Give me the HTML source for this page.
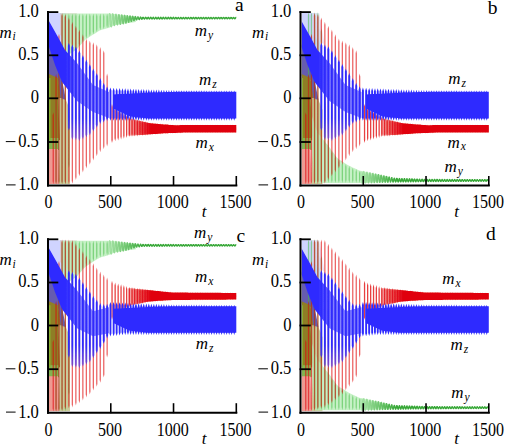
<!DOCTYPE html>
<html><head><meta charset="utf-8"><style>
html,body{margin:0;padding:0;background:#fff;width:507px;height:445px;overflow:hidden}
svg{display:block}
text{font-family:"Liberation Serif",serif}
</style></head><body>
<svg width="507" height="445" viewBox="0 0 507 445"><defs><filter id="bl" x="-2%" y="-2%" width="104%" height="104%"><feGaussianBlur stdDeviation="0.45"/></filter><clipPath id="cp"><rect x="49" y="5" width="188" height="179.6"/></clipPath><linearGradient id="rg" gradientUnits="userSpaceOnUse" x1="118.3" y1="0" x2="150.9" y2="0"><stop offset="0" stop-color="#e00008" stop-opacity="0"/><stop offset="1" stop-color="#e00008" stop-opacity="1"/></linearGradient><linearGradient id="gg" gradientUnits="userSpaceOnUse" x1="108.3" y1="0" x2="143.4" y2="0"><stop offset="0" stop-color="#a8e4a8"/><stop offset="1" stop-color="#38a838"/></linearGradient><linearGradient id="bandg" gradientUnits="userSpaceOnUse" x1="66" y1="0" x2="80" y2="0"><stop offset="0" stop-color="#2f2cff" stop-opacity="1"/><stop offset="1" stop-color="#2f2cff" stop-opacity="0.6"/></linearGradient><linearGradient id="bga" gradientUnits="userSpaceOnUse" x1="0" y1="118" x2="0" y2="152"><stop offset="0" stop-color="#2f2cff" stop-opacity="1"/><stop offset="1" stop-color="#2f2cff" stop-opacity="0.25"/></linearGradient><linearGradient id="bgb" gradientUnits="userSpaceOnUse" x1="0" y1="118" x2="0" y2="152"><stop offset="0" stop-color="#2f2cff" stop-opacity="1"/><stop offset="1" stop-color="#2f2cff" stop-opacity="0.25"/></linearGradient><linearGradient id="bgc" gradientUnits="userSpaceOnUse" x1="0" y1="118" x2="0" y2="152"><stop offset="0" stop-color="#2f2cff" stop-opacity="1"/><stop offset="1" stop-color="#2f2cff" stop-opacity="0.25"/></linearGradient><linearGradient id="bgd" gradientUnits="userSpaceOnUse" x1="0" y1="118" x2="0" y2="152"><stop offset="0" stop-color="#2f2cff" stop-opacity="1"/><stop offset="1" stop-color="#2f2cff" stop-opacity="0.25"/></linearGradient></defs><g transform="translate(0,0)">
<g clip-path="url(#cp)"><g filter="url(#bl)"><polygon points="49.0,13.0 61.0,13.0 67.0,30.0 68.0,56.0 65.0,50.0 58.0,37.0 49.0,21.0" fill="#c8ccff" fill-opacity="0.85"/>
<polygon points="60.0,13.0 66.0,13.0 68.0,56.0 65.0,50.0 62.0,44.0" fill="#c0e0ee" fill-opacity="0.6"/>
<polygon points="49.0,44.0 55.0,62.0 62.0,80.0 66.0,100.0 60.0,100.0 58.0,80.0 49.0,76.0" fill="#665cb0" fill-opacity="1.0"/>
<polygon points="49.0,74.0 58.0,78.0 61.0,100.0 60.0,140.0 49.0,140.0" fill="#8e7e26" fill-opacity="1.0"/>
<polygon points="49.0,138.0 59.0,138.0 59.0,150.0 49.0,150.0" fill="#82b450" fill-opacity="1.0"/>
<polygon points="49.0,78.0 50.5,78.0 50.5,140.0 49.0,140.0" fill="#88b030" fill-opacity="1.0"/>
<polygon points="49.0,149.0 58.0,149.0 59.0,184.0 49.0,184.0" fill="#ee9a92" fill-opacity="1.0"/>
<polygon points="58.0,98.0 61.0,98.0 66.0,100.0 70.0,110.0 70.0,184.0 59.0,184.0 60.0,140.0" fill="#c4c690" fill-opacity="0.9"/>
<polygon points="60.1,13.2 76.9,13.2 76.9,46.7 68.1,42.4 60.1,34.7" fill="#d8c8c0" fill-opacity="0.7"/>
<polygon points="61.8,13.6 63.3,13.6 64.8,13.6 66.3,13.6 67.9,13.6 69.4,13.6 70.9,13.6 72.4,13.6 73.9,13.6 75.4,13.6 76.9,13.6 78.4,13.6 79.9,13.6 81.5,13.6 83.0,13.6 84.5,13.6 86.0,13.6 87.5,13.6 89.0,13.6 90.5,13.6 92.0,13.6 93.5,13.6 95.1,13.6 96.6,13.6 98.1,13.6 99.6,13.6 101.1,13.6 102.6,13.6 104.1,13.6 105.6,13.6 107.2,13.6 108.7,13.6 110.2,13.6 111.7,13.7 113.2,13.9 114.7,14.1 116.2,14.2 117.7,14.4 119.2,14.6 120.8,14.8 122.3,15.0 123.8,15.2 125.3,15.3 126.8,15.5 128.3,15.7 129.8,15.9 131.3,16.1 132.8,16.2 134.4,16.4 135.9,16.6 135.9,22.1 134.4,22.3 132.8,22.5 131.3,22.7 129.8,22.9 128.3,23.1 126.8,23.3 125.3,23.4 123.8,23.7 122.3,23.9 120.8,24.2 119.2,24.5 117.7,24.7 116.2,25.0 114.7,25.3 113.2,26.0 111.7,26.6 110.2,27.3 108.7,27.9 107.2,28.3 105.6,28.7 104.1,29.2 102.6,29.6 101.1,30.0 99.6,30.6 98.1,31.5 96.6,32.4 95.1,33.4 93.5,34.3 92.0,35.2 90.5,36.2 89.0,37.2 87.5,38.2 86.0,39.2 84.5,40.5 83.0,42.2 81.5,44.0 79.9,45.8 78.4,47.6 76.9,49.3 75.4,50.3 73.9,51.3 72.4,52.2 70.9,53.2 69.4,54.2 67.9,55.2 66.3,56.1 64.8,57.1 63.3,58.4 61.8,59.6" fill="#b8eeb8" fill-opacity="0.8"/>
<path fill="#44bb44" fill-opacity="0.55" d="M56.1 95.2L56.7 98.2L56.7 181.3L56.1 184.3L55.4 181.3L55.4 98.2ZM59.0 57.7L59.6 60.7L59.6 181.3L59.0 184.3L58.3 181.3L58.3 60.7ZM62.1 13.6L62.7 16.6L62.7 181.3L62.1 184.3L61.4 181.3L61.4 16.6ZM65.4 13.6L66.0 16.6L66.0 181.3L65.4 184.3L64.7 181.3L64.7 16.6ZM68.9 13.6L69.5 16.6L69.5 164.8L68.9 167.8L68.2 164.8L68.2 16.6ZM72.4 13.6L73.0 16.6L73.0 92.7L72.4 95.7L71.7 92.7L71.7 16.6ZM75.9 13.6L76.5 16.6L76.5 55.3L75.9 58.3L75.2 55.3L75.2 16.6ZM79.4 13.6L80.0 16.6L80.0 43.5L79.4 46.5L78.7 43.5L78.7 16.6ZM82.9 13.6L83.5 16.6L83.5 39.3L82.9 42.3L82.2 39.3L82.2 16.6ZM86.4 13.6L87.0 16.6L87.0 35.9L86.4 38.9L85.7 35.9L85.7 16.6ZM89.8 13.6L90.5 16.6L90.5 33.7L89.8 36.7L89.2 33.7L89.2 16.6ZM93.3 13.6L94.0 16.6L94.0 31.4L93.3 34.4L92.7 31.4L92.7 16.6ZM96.8 13.6L97.4 16.6L97.4 29.3L96.8 32.3L96.1 29.3L96.1 16.6ZM100.3 13.6L100.9 16.6L100.9 27.3L100.3 30.3L99.6 27.3L99.6 16.6ZM103.7 13.6L104.4 16.6L104.4 26.3L103.7 29.3L103.1 26.3L103.1 16.6ZM107.1 13.6L107.8 16.6L107.8 25.3L107.1 28.3L106.5 25.3L106.5 16.6ZM110.4 13.6L111.1 16.6L111.1 24.2L110.4 27.2L109.8 24.2L109.8 16.6ZM113.6 13.9L114.3 16.9L114.3 22.8L113.6 25.8L113.0 22.8L113.0 16.9ZM116.7 14.3L117.3 17.3L117.3 21.9L116.7 24.9L116.0 21.9L116.0 17.3ZM119.6 14.7L120.3 17.7L120.3 21.4L119.6 24.4L119.0 21.4L119.0 17.7ZM122.5 15.0L123.1 18.0L123.1 20.9L122.5 23.9L121.8 20.9L121.8 18.0ZM125.2 15.3L125.9 18.3L125.9 20.4L125.2 23.4L124.6 20.4L124.6 18.3ZM128.0 15.7L128.6 18.7L128.6 19.5L128.0 22.5L127.3 19.5L127.3 18.7ZM130.7 16.0L131.3 18.8L131.3 18.8L130.7 21.7L130.0 18.8L130.0 18.8ZM133.3 16.3L134.0 18.6L134.0 18.6L133.3 20.8L132.7 18.6L132.7 18.6ZM136.0 16.6L136.6 18.3L136.6 18.3L136.0 20.0L135.3 18.3L135.3 18.3ZM138.6 16.9L139.3 18.3L139.3 18.3L138.6 19.7L138.0 18.3L138.0 18.3ZM141.2 17.1L141.9 18.2L141.9 18.2L141.2 19.3L140.6 18.2L140.6 18.2ZM143.8 17.3L144.4 18.1L144.4 18.1L143.8 19.0L143.1 18.1L143.1 18.1ZM146.3 17.3L147.0 18.1L147.0 18.1L146.3 19.0L145.7 18.1L145.7 18.1ZM148.8 17.3L149.5 18.1L149.5 18.1L148.8 19.0L148.2 18.1L148.2 18.1ZM151.4 17.3L152.0 18.1L152.0 18.1L151.4 19.0L150.7 18.1L150.7 18.1ZM153.9 17.3L154.5 18.1L154.5 18.1L153.9 19.0L153.2 18.1L153.2 18.1ZM156.4 17.3L157.0 18.1L157.0 18.1L156.4 19.0L155.7 18.1L155.7 18.1ZM158.9 17.3L159.5 18.1L159.5 18.1L158.9 19.0L158.2 18.1L158.2 18.1ZM161.4 17.3L162.0 18.1L162.0 18.1L161.4 19.0L160.7 18.1L160.7 18.1ZM163.9 17.3L164.6 18.1L164.6 18.1L163.9 19.0L163.3 18.1L163.3 18.1ZM166.4 17.3L167.1 18.1L167.1 18.1L166.4 18.9L165.8 18.1L165.8 18.1ZM168.9 17.3L169.6 18.1L169.6 18.1L168.9 18.9L168.3 18.1L168.3 18.1ZM171.4 17.3L172.1 18.1L172.1 18.1L171.4 18.9L170.8 18.1L170.8 18.1ZM173.9 17.3L174.6 18.1L174.6 18.1L173.9 18.9L173.3 18.1L173.3 18.1ZM176.5 17.3L177.1 18.1L177.1 18.1L176.5 18.9L175.8 18.1L175.8 18.1ZM179.0 17.4L179.6 18.1L179.6 18.1L179.0 18.9L178.3 18.1L178.3 18.1ZM181.5 17.4L182.1 18.1L182.1 18.1L181.5 18.9L180.8 18.1L180.8 18.1ZM184.0 17.4L184.6 18.1L184.6 18.1L184.0 18.9L183.3 18.1L183.3 18.1ZM186.5 17.4L187.1 18.1L187.1 18.1L186.5 18.9L185.8 18.1L185.8 18.1ZM189.0 17.4L189.7 18.1L189.7 18.1L189.0 18.9L188.4 18.1L188.4 18.1ZM191.5 17.4L192.2 18.1L192.2 18.1L191.5 18.9L190.9 18.1L190.9 18.1ZM194.0 17.4L194.7 18.1L194.7 18.1L194.0 18.9L193.4 18.1L193.4 18.1ZM196.5 17.4L197.2 18.1L197.2 18.1L196.5 18.9L195.9 18.1L195.9 18.1ZM199.1 17.4L199.7 18.1L199.7 18.1L199.1 18.9L198.4 18.1L198.4 18.1ZM201.6 17.4L202.2 18.1L202.2 18.1L201.6 18.8L200.9 18.1L200.9 18.1ZM204.1 17.4L204.7 18.1L204.7 18.1L204.1 18.8L203.4 18.1L203.4 18.1ZM206.6 17.4L207.2 18.1L207.2 18.1L206.6 18.8L205.9 18.1L205.9 18.1ZM209.1 17.4L209.7 18.1L209.7 18.1L209.1 18.8L208.4 18.1L208.4 18.1ZM211.6 17.4L212.3 18.1L212.3 18.1L211.6 18.8L211.0 18.1L211.0 18.1ZM214.1 17.4L214.8 18.1L214.8 18.1L214.1 18.8L213.5 18.1L213.5 18.1ZM216.6 17.4L217.3 18.1L217.3 18.1L216.6 18.8L216.0 18.1L216.0 18.1ZM219.1 17.4L219.8 18.1L219.8 18.1L219.1 18.8L218.5 18.1L218.5 18.1ZM221.6 17.4L222.3 18.1L222.3 18.1L221.6 18.8L221.0 18.1L221.0 18.1ZM224.2 17.4L224.8 18.1L224.8 18.1L224.2 18.8L223.5 18.1L223.5 18.1ZM226.7 17.4L227.3 18.1L227.3 18.1L226.7 18.8L226.0 18.1L226.0 18.1ZM229.2 17.4L229.8 18.1L229.8 18.1L229.2 18.8L228.5 18.1L228.5 18.1ZM231.7 17.5L232.3 18.1L232.3 18.1L231.7 18.8L231.0 18.1L231.0 18.1ZM234.2 17.5L234.9 18.1L234.9 18.1L234.2 18.8L233.6 18.1L233.6 18.1Z"/>
<path fill="#e00008" fill-opacity="0.6" d="M53.3 112.3L53.9 115.3L53.9 181.3L53.3 184.3L52.6 181.3L52.6 115.3ZM56.1 73.9L56.7 76.9L56.7 181.3L56.1 184.3L55.4 181.3L55.4 76.9ZM59.0 33.7L59.6 36.7L59.6 181.3L59.0 184.3L58.3 181.3L58.3 36.7ZM62.1 12.9L62.7 15.9L62.7 181.3L62.1 184.3L61.4 181.3L61.4 15.9ZM65.4 14.3L66.0 17.3L66.0 181.3L65.4 184.3L64.7 181.3L64.7 17.3ZM68.9 17.4L69.5 20.4L69.5 181.3L68.9 184.3L68.2 181.3L68.2 20.4ZM72.4 21.7L73.0 24.7L73.0 180.7L72.4 183.7L71.7 180.7L71.7 24.7ZM75.9 25.7L76.5 28.7L76.5 177.0L75.9 180.0L75.2 177.0L75.2 28.7ZM79.4 29.5L80.0 32.5L80.0 173.3L79.4 176.3L78.7 173.3L78.7 32.5ZM82.9 34.3L83.5 37.3L83.5 169.5L82.9 172.5L82.2 169.5L82.2 37.3ZM86.4 38.5L87.0 41.5L87.0 165.6L86.4 168.6L85.7 165.6L85.7 41.5ZM89.8 40.4L90.5 43.4L90.5 161.7L89.8 164.7L89.2 161.7L89.2 43.4ZM93.3 42.3L94.0 45.3L94.0 157.5L93.3 160.5L92.7 157.5L92.7 45.3ZM96.8 44.2L97.4 47.2L97.4 153.3L96.8 156.3L96.1 153.3L96.1 47.2ZM100.3 46.9L100.9 49.9L100.9 149.2L100.3 152.2L99.6 149.2L99.6 49.9ZM103.7 50.3L104.4 53.3L104.4 146.3L103.7 149.3L103.1 146.3L103.1 53.3ZM107.1 73.5L107.8 76.5L107.8 143.4L107.1 146.4L106.5 143.4L106.5 76.5Z"/>
<path fill="#e00008" fill-opacity="0.75" d="M112.0 104.1L112.7 107.1L112.7 140.1L112.0 143.1L111.4 140.1L111.4 107.1ZM115.2 107.8L115.8 110.8L115.8 138.3L115.2 141.3L114.5 138.3L114.5 110.8ZM118.2 109.7L118.8 112.7L118.8 137.4L118.2 140.4L117.5 137.4L117.5 112.7ZM121.1 111.6L121.7 114.6L121.7 136.5L121.1 139.5L120.4 136.5L120.4 114.6ZM123.9 113.4L124.5 116.4L124.5 135.7L123.9 138.7L123.2 135.7L123.2 116.4ZM126.6 115.1L127.3 118.1L127.3 134.9L126.6 137.9L126.0 134.9L126.0 118.1ZM129.3 116.8L130.0 119.8L130.0 134.1L129.3 137.1L128.7 134.1L128.7 119.8ZM132.0 117.7L132.7 120.7L132.7 133.8L132.0 136.8L131.4 133.8L131.4 120.7ZM134.7 118.4L135.3 121.4L135.3 133.6L134.7 136.6L134.0 133.6L134.0 121.4ZM137.3 119.1L138.0 122.1L138.0 133.4L137.3 136.4L136.7 133.4L136.7 122.1ZM139.9 119.8L140.6 122.8L140.6 133.1L139.9 136.1L139.3 133.1L139.3 122.8ZM142.5 120.4L143.1 123.4L143.1 132.9L142.5 135.9L141.8 132.9L141.8 123.4ZM145.1 121.1L145.7 124.1L145.7 132.7L145.1 135.7L144.4 132.7L144.4 124.1ZM147.6 121.7L148.2 124.7L148.2 132.5L147.6 135.5L146.9 132.5L146.9 124.7ZM150.1 122.4L150.7 125.4L150.7 132.3L150.1 135.3L149.4 132.3L149.4 125.4ZM152.6 122.6L153.3 125.6L153.3 132.1L152.6 135.1L152.0 132.1L152.0 125.6ZM155.1 122.8L155.8 125.8L155.8 131.8L155.1 134.8L154.5 131.8L154.5 125.8ZM157.6 123.1L158.3 126.1L158.3 131.6L157.6 134.6L157.0 131.6L157.0 126.1ZM160.1 123.3L160.8 126.3L160.8 131.4L160.1 134.4L159.5 131.4L159.5 126.3ZM162.6 123.5L163.3 126.5L163.3 131.2L162.6 134.2L162.0 131.2L162.0 126.5ZM165.2 123.8L165.8 126.8L165.8 131.0L165.2 134.0L164.5 131.0L164.5 126.8ZM167.7 124.0L168.3 127.0L168.3 130.9L167.7 133.9L167.0 130.9L167.0 127.0ZM170.2 124.2L170.8 127.2L170.8 130.8L170.2 133.8L169.5 130.8L169.5 127.2ZM172.7 124.5L173.3 127.5L173.3 130.7L172.7 133.7L172.0 130.7L172.0 127.5ZM175.2 124.5L175.9 127.5L175.9 130.6L175.2 133.6L174.6 130.6L174.6 127.5ZM177.7 124.5L178.4 127.5L178.4 130.5L177.7 133.5L177.1 130.5L177.1 127.5ZM180.2 124.5L180.9 127.5L180.9 130.4L180.2 133.4L179.6 130.4L179.6 127.5ZM182.7 124.5L183.4 127.5L183.4 130.3L182.7 133.3L182.1 130.3L182.1 127.5ZM185.2 124.5L185.9 127.5L185.9 130.2L185.2 133.2L184.6 130.2L184.6 127.5ZM187.8 124.5L188.4 127.5L188.4 130.1L187.8 133.1L187.1 130.1L187.1 127.5ZM190.3 124.5L190.9 127.5L190.9 130.1L190.3 133.1L189.6 130.1L189.6 127.5ZM192.8 124.5L193.4 127.5L193.4 130.1L192.8 133.1L192.1 130.1L192.1 127.5ZM195.3 124.5L195.9 127.5L195.9 130.1L195.3 133.1L194.6 130.1L194.6 127.5ZM197.8 124.5L198.4 127.5L198.4 130.1L197.8 133.1L197.1 130.1L197.1 127.5ZM200.3 124.5L201.0 127.5L201.0 130.1L200.3 133.1L199.7 130.1L199.7 127.5ZM202.8 124.5L203.5 127.5L203.5 130.1L202.8 133.1L202.2 130.1L202.2 127.5ZM205.3 124.5L206.0 127.5L206.0 130.1L205.3 133.1L204.7 130.1L204.7 127.5ZM207.8 124.5L208.5 127.5L208.5 130.1L207.8 133.1L207.2 130.1L207.2 127.5ZM210.3 124.5L211.0 127.5L211.0 130.1L210.3 133.1L209.7 130.1L209.7 127.5ZM212.9 124.5L213.5 127.5L213.5 130.1L212.9 133.1L212.2 130.1L212.2 127.5ZM215.4 124.5L216.0 127.5L216.0 130.1L215.4 133.1L214.7 130.1L214.7 127.5ZM217.9 124.5L218.5 127.5L218.5 130.1L217.9 133.1L217.2 130.1L217.2 127.5ZM220.4 124.5L221.0 127.5L221.0 130.1L220.4 133.1L219.7 130.1L219.7 127.5ZM222.9 124.5L223.6 127.5L223.6 130.1L222.9 133.1L222.3 130.1L222.3 127.5ZM225.4 124.5L226.1 127.5L226.1 130.1L225.4 133.1L224.8 130.1L224.8 127.5ZM227.9 124.5L228.6 127.5L228.6 130.1L227.9 133.1L227.3 130.1L227.3 127.5ZM230.4 124.5L231.1 127.5L231.1 130.1L230.4 133.1L229.8 130.1L229.8 127.5ZM232.9 124.5L233.6 127.5L233.6 130.1L232.9 133.1L232.3 130.1L232.3 127.5ZM235.5 124.5L236.1 127.5L236.1 130.1L235.5 133.1L234.8 130.1L234.8 127.5Z"/>
<path fill="none" stroke="url(#gg)" stroke-width="1.35" stroke-linejoin="round" d="M108.3 26.9 108.5 24.1 108.8 20.5 109.1 16.9 109.4 14.4 109.6 13.6 109.9 14.6 110.2 17.2 110.4 20.6 110.7 23.9 111.0 26.2 111.3 26.8 111.5 25.7 111.8 23.1 112.1 19.8 112.3 16.7 112.6 14.5 112.8 13.8 113.1 14.8 113.4 17.1 113.6 20.1 113.9 23.0 114.2 24.9 114.4 25.5 114.7 24.5 114.9 22.2 115.2 19.4 115.4 16.6 115.7 14.8 115.9 14.2 116.2 15.1 116.5 17.2 116.7 19.9 117.0 22.5 117.2 24.3 117.5 24.8 117.7 23.9 117.9 21.9 118.2 19.3 118.4 16.8 118.7 15.1 118.9 14.6 119.2 15.4 119.4 17.4 119.7 19.9 119.9 22.2 120.1 23.8 120.4 24.3 120.6 23.4 120.9 21.5 121.1 19.2 121.3 16.9 121.6 15.3 121.8 14.9 122.0 15.7 122.3 17.5 122.5 19.8 122.7 21.9 123.0 23.4 123.2 23.8 123.4 23.0 123.7 21.3 123.9 19.1 124.1 17.0 124.4 15.6 124.6 15.3 124.8 16.0 125.0 17.6 125.3 19.7 125.5 21.6 125.7 22.9 126.0 23.1 126.2 22.4 126.4 20.9 126.6 18.9 126.9 17.1 127.1 15.9 127.3 15.6 127.5 16.2 127.8 17.6 128.0 19.4 128.2 21.0 128.5 22.1 128.7 22.3 128.9 21.7 129.1 20.3 129.4 18.7 129.6 17.2 129.8 16.2 130.0 15.9 130.3 16.5 130.5 17.6 130.7 19.1 130.9 20.4 131.2 21.3 131.4 21.4 131.6 20.9 131.8 19.8 132.0 18.5 132.3 17.2 132.5 16.4 132.7 16.2 132.9 16.7 133.2 17.6 133.4 18.8 133.6 19.8 133.8 20.5 134.0 20.6 134.3 20.2 134.5 19.3 134.7 18.3 134.9 17.3 135.1 16.7 135.4 16.5 135.6 16.9 135.8 17.6 136.0 18.5 136.2 19.3 136.5 19.8 136.7 19.9 136.9 19.6 137.1 18.9 137.3 18.1 137.6 17.4 137.8 16.9 138.0 16.8 138.2 17.1 138.4 17.7 138.7 18.4 138.9 19.1 139.1 19.5 139.3 19.6 139.5 19.3 139.7 18.8 140.0 18.1 140.2 17.5 140.4 17.1 140.6 17.0 140.8 17.3 141.0 17.7 141.2 18.3 141.5 18.8 141.7 19.2 141.9 19.2 142.1 19.0 142.3 18.6 142.5 18.1 142.7 17.6 143.0 17.3 143.2 17.3 143.4 17.4 143.6 17.8 143.8 18.2 144.0 18.6 144.2 18.9 144.5 19.0 144.7 18.8 144.9 18.5 145.1 18.1 145.3 17.6 145.5 17.4 145.7 17.3 145.9 17.5 146.2 17.8 146.4 18.2 146.6 18.6 146.8 18.9 147.0 19.0 147.2 18.8 147.4 18.5 147.6 18.1 147.8 17.6 148.0 17.4 148.3 17.3 148.5 17.5 148.7 17.8 148.9 18.2 149.1 18.6 149.3 18.9 149.5 19.0 149.7 18.8 149.9 18.5 150.1 18.1 150.3 17.6 150.6 17.4 150.8 17.3 151.0 17.5 151.2 17.8 151.4 18.2 151.6 18.6 151.8 18.9 152.0 19.0 152.2 18.8 152.4 18.5 152.6 18.1 152.9 17.7 153.1 17.4 153.3 17.3 153.5 17.5 153.7 17.8 153.9 18.2 154.1 18.6 154.3 18.9 154.5 19.0 154.7 18.8 154.9 18.5 155.2 18.1 155.4 17.7 155.6 17.4 155.8 17.3 156.0 17.5 156.2 17.8 156.4 18.2 156.6 18.6 156.8 18.9 157.0 19.0 157.3 18.8 157.5 18.5 157.7 18.1 157.9 17.7 158.1 17.4 158.3 17.3 158.5 17.5 158.7 17.8 158.9 18.2 159.1 18.6 159.3 18.9 159.6 19.0 159.8 18.8 160.0 18.5 160.2 18.1 160.4 17.7 160.6 17.4 160.8 17.3 161.0 17.5 161.2 17.8 161.4 18.2 161.6 18.6 161.9 18.9 162.1 19.0 162.3 18.8 162.5 18.5 162.7 18.1 162.9 17.7 163.1 17.4 163.3 17.3 163.5 17.5 163.7 17.8 163.9 18.2 164.2 18.6 164.4 18.9 164.6 18.9 164.8 18.8 165.0 18.5 165.2 18.1 165.4 17.7 165.6 17.4 165.8 17.3 166.0 17.5 166.2 17.8 166.5 18.2 166.7 18.6 166.9 18.9 167.1 18.9 167.3 18.8 167.5 18.5 167.7 18.1 167.9 17.7 168.1 17.4 168.3 17.3 168.5 17.5 168.8 17.8 169.0 18.2 169.2 18.6 169.4 18.9 169.6 18.9 169.8 18.8 170.0 18.5 170.2 18.1 170.4 17.7 170.6 17.4 170.8 17.3 171.1 17.5 171.3 17.8 171.5 18.2 171.7 18.6 171.9 18.9 172.1 18.9 172.3 18.8 172.5 18.5 172.7 18.1 172.9 17.7 173.2 17.4 173.4 17.3 173.6 17.5 173.8 17.8 174.0 18.2 174.2 18.6 174.4 18.9 174.6 18.9 174.8 18.8 175.0 18.5 175.2 18.1 175.5 17.7 175.7 17.4 175.9 17.4 176.1 17.5 176.3 17.8 176.5 18.2 176.7 18.6 176.9 18.8 177.1 18.9 177.3 18.8 177.5 18.4 177.8 18.1 178.0 17.7 178.2 17.4 178.4 17.4 178.6 17.5 178.8 17.8 179.0 18.2 179.2 18.6 179.4 18.8 179.6 18.9 179.8 18.8 180.1 18.4 180.3 18.1 180.5 17.7 180.7 17.4 180.9 17.4 181.1 17.5 181.3 17.8 181.5 18.2 181.7 18.6 181.9 18.8 182.1 18.9 182.4 18.8 182.6 18.4 182.8 18.0 183.0 17.7 183.2 17.4 183.4 17.4 183.6 17.5 183.8 17.8 184.0 18.2 184.2 18.6 184.4 18.8 184.7 18.9 184.9 18.7 185.1 18.4 185.3 18.0 185.5 17.7 185.7 17.4 185.9 17.4 186.1 17.5 186.3 17.8 186.5 18.2 186.8 18.6 187.0 18.8 187.2 18.9 187.4 18.7 187.6 18.4 187.8 18.0 188.0 17.7 188.2 17.4 188.4 17.4 188.6 17.5 188.8 17.8 189.1 18.2 189.3 18.6 189.5 18.8 189.7 18.9 189.9 18.7 190.1 18.4 190.3 18.0 190.5 17.7 190.7 17.4 190.9 17.4 191.1 17.5 191.4 17.8 191.6 18.2 191.8 18.6 192.0 18.8 192.2 18.9 192.4 18.7 192.6 18.4 192.8 18.0 193.0 17.7 193.2 17.4 193.4 17.4 193.7 17.5 193.9 17.8 194.1 18.2 194.3 18.6 194.5 18.8 194.7 18.9 194.9 18.7 195.1 18.4 195.3 18.0 195.5 17.7 195.7 17.4 196.0 17.4 196.2 17.5 196.4 17.8 196.6 18.2 196.8 18.6 197.0 18.8 197.2 18.9 197.4 18.7 197.6 18.4 197.8 18.0 198.0 17.7 198.3 17.5 198.5 17.4 198.7 17.5 198.9 17.8 199.1 18.2 199.3 18.6 199.5 18.8 199.7 18.8 199.9 18.7 200.1 18.4 200.3 18.0 200.6 17.7 200.8 17.5 201.0 17.4 201.2 17.5 201.4 17.8 201.6 18.2 201.8 18.5 202.0 18.8 202.2 18.8 202.4 18.7 202.7 18.4 202.9 18.0 203.1 17.7 203.3 17.5 203.5 17.4 203.7 17.5 203.9 17.8 204.1 18.2 204.3 18.5 204.5 18.8 204.7 18.8 205.0 18.7 205.2 18.4 205.4 18.0 205.6 17.7 205.8 17.5 206.0 17.4 206.2 17.5 206.4 17.8 206.6 18.2 206.8 18.5 207.0 18.8 207.3 18.8 207.5 18.7 207.7 18.4 207.9 18.0 208.1 17.7 208.3 17.5 208.5 17.4 208.7 17.5 208.9 17.8 209.1 18.2 209.3 18.5 209.6 18.8 209.8 18.8 210.0 18.7 210.2 18.4 210.4 18.0 210.6 17.7 210.8 17.5 211.0 17.4 211.2 17.5 211.4 17.8 211.6 18.2 211.9 18.5 212.1 18.8 212.3 18.8 212.5 18.7 212.7 18.4 212.9 18.0 213.1 17.7 213.3 17.5 213.5 17.4 213.7 17.6 213.9 17.8 214.2 18.2 214.4 18.5 214.6 18.8 214.8 18.8 215.0 18.7 215.2 18.4 215.4 18.0 215.6 17.7 215.8 17.5 216.0 17.4 216.2 17.6 216.5 17.8 216.7 18.2 216.9 18.5 217.1 18.7 217.3 18.8 217.5 18.7 217.7 18.4 217.9 18.0 218.1 17.7 218.3 17.5 218.6 17.4 218.8 17.6 219.0 17.8 219.2 18.2 219.4 18.5 219.6 18.7 219.8 18.8 220.0 18.7 220.2 18.4 220.4 18.0 220.6 17.7 220.9 17.5 221.1 17.4 221.3 17.6 221.5 17.8 221.7 18.2 221.9 18.5 222.1 18.7 222.3 18.8 222.5 18.7 222.7 18.4 222.9 18.0 223.2 17.7 223.4 17.5 223.6 17.4 223.8 17.6 224.0 17.8 224.2 18.2 224.4 18.5 224.6 18.7 224.8 18.8 225.0 18.7 225.2 18.4 225.5 18.0 225.7 17.7 225.9 17.5 226.1 17.4 226.3 17.6 226.5 17.8 226.7 18.2 226.9 18.5 227.1 18.7 227.3 18.8 227.5 18.6 227.8 18.4 228.0 18.0 228.2 17.7 228.4 17.5 228.6 17.4 228.8 17.6 229.0 17.8 229.2 18.2 229.4 18.5 229.6 18.7 229.8 18.8 230.1 18.6 230.3 18.4 230.5 18.0 230.7 17.7 230.9 17.5 231.1 17.5 231.3 17.6 231.5 17.8 231.7 18.2 231.9 18.5 232.2 18.7 232.4 18.8 232.6 18.6 232.8 18.4 233.0 18.0 233.2 17.7 233.4 17.5 233.6 17.5 233.8 17.6 234.0 17.8 234.2 18.2 234.5 18.5 234.7 18.7 234.9 18.8 235.1 18.6 235.3 18.4 235.5 18.0 235.7 17.7 235.9 17.5 236.1 17.5 236.3 17.5"/>
<polygon points="49.0,21.0 58.0,37.0 65.0,50.0 77.0,63.0 93.0,85.0 109.0,92.0 109.0,118.0 93.0,112.0 77.0,101.0 62.0,82.0 55.0,65.0 49.0,47.0" fill="url(#bandg)"/>
<path fill="url(#bga)" d="M68.9 42.8L69.8 45.8L69.8 127.7L68.9 130.7L67.9 127.7L67.9 45.8ZM72.4 44.5L73.3 47.5L73.3 137.0L72.4 140.0L71.4 137.0L71.4 47.5ZM75.9 46.2L76.8 49.2L76.8 137.6L75.9 140.6L74.9 137.6L74.9 49.2ZM79.4 50.2L80.3 53.2L80.3 138.2L79.4 141.2L78.4 138.2L78.4 53.2ZM82.9 54.9L83.8 57.9L83.8 136.6L82.9 139.6L81.9 136.6L81.9 57.9ZM86.4 59.6L87.3 62.6L87.3 134.5L86.4 137.5L85.4 134.5L85.4 62.6ZM89.8 64.1L90.8 67.1L90.8 132.4L89.8 135.4L88.9 132.4L88.9 67.1ZM93.3 68.5L94.3 71.5L94.3 128.6L93.3 131.6L92.4 128.6L92.4 71.5ZM96.8 73.1L97.7 76.1L97.7 124.8L96.8 127.8L95.8 124.8L95.8 76.1ZM100.3 77.9L101.2 80.9L101.2 121.0L100.3 124.0L99.3 121.0L99.3 80.9ZM103.7 82.7L104.7 85.7L104.7 119.6L103.7 122.6L102.8 119.6L102.8 85.7ZM107.1 86.2L108.1 89.2L108.1 118.1L107.1 121.1L106.2 118.1L106.2 89.2ZM110.4 87.6L111.4 90.6L111.4 117.7L110.4 120.7L109.5 117.7L109.5 90.6ZM113.6 87.7L114.6 90.7L114.6 117.7L113.6 120.7L112.7 117.7L112.7 90.7ZM116.7 87.9L117.6 90.9L117.6 117.8L116.7 120.8L115.7 117.8L115.7 90.9ZM119.6 88.0L120.6 91.0L120.6 117.8L119.6 120.8L118.7 117.8L118.7 91.0ZM122.5 88.2L123.4 91.2L123.4 117.8L122.5 120.8L121.5 117.8L121.5 91.2ZM125.2 88.3L126.2 91.3L126.2 117.8L125.2 120.8L124.3 117.8L124.3 91.3ZM128.0 88.4L128.9 91.4L128.9 117.8L128.0 120.8L127.0 117.8L127.0 91.4ZM130.7 88.6L131.6 91.6L131.6 117.8L130.7 120.8L129.7 117.8L129.7 91.6ZM133.3 88.7L134.3 91.7L134.3 117.8L133.3 120.8L132.4 117.8L132.4 91.7ZM136.0 88.8L136.9 91.8L136.9 117.8L136.0 120.8L135.0 117.8L135.0 91.8ZM138.6 88.9L139.6 91.9L139.6 117.8L138.6 120.8L137.7 117.8L137.7 91.9ZM141.2 89.0L142.2 92.0L142.2 117.8L141.2 120.8L140.3 117.8L140.3 92.0ZM143.8 89.1L144.7 92.1L144.7 117.8L143.8 120.8L142.8 117.8L142.8 92.1ZM146.3 89.2L147.3 92.2L147.3 117.8L146.3 120.8L145.4 117.8L145.4 92.2ZM148.8 89.3L149.8 92.3L149.8 117.8L148.8 120.8L147.9 117.8L147.9 92.3ZM151.4 89.4L152.3 92.4L152.3 117.8L151.4 120.8L150.4 117.8L150.4 92.4ZM153.9 89.5L154.8 92.5L154.8 117.8L153.9 120.8L152.9 117.8L152.9 92.5ZM156.4 89.5L157.3 92.5L157.3 117.8L156.4 120.8L155.4 117.8L155.4 92.5ZM158.9 89.6L159.8 92.6L159.8 117.8L158.9 120.8L157.9 117.8L157.9 92.6ZM161.4 89.7L162.3 92.7L162.3 117.8L161.4 120.8L160.4 117.8L160.4 92.7ZM163.9 89.8L164.9 92.8L164.9 117.8L163.9 120.8L163.0 117.8L163.0 92.8ZM166.4 89.9L167.4 92.9L167.4 117.8L166.4 120.8L165.5 117.8L165.5 92.9ZM168.9 90.0L169.9 93.0L169.9 117.8L168.9 120.8L168.0 117.8L168.0 93.0ZM171.4 90.1L172.4 93.1L172.4 117.8L171.4 120.8L170.5 117.8L170.5 93.1ZM173.9 90.1L174.9 93.1L174.9 117.8L173.9 120.8L173.0 117.8L173.0 93.1ZM176.5 90.2L177.4 93.2L177.4 117.8L176.5 120.8L175.5 117.8L175.5 93.2ZM179.0 90.2L179.9 93.2L179.9 117.8L179.0 120.8L178.0 117.8L178.0 93.2ZM181.5 90.2L182.4 93.2L182.4 117.8L181.5 120.8L180.5 117.8L180.5 93.2ZM184.0 90.2L184.9 93.2L184.9 117.8L184.0 120.8L183.0 117.8L183.0 93.2ZM186.5 90.2L187.4 93.2L187.4 117.8L186.5 120.8L185.5 117.8L185.5 93.2ZM189.0 90.2L190.0 93.2L190.0 117.8L189.0 120.8L188.1 117.8L188.1 93.2ZM191.5 90.3L192.5 93.3L192.5 117.8L191.5 120.8L190.6 117.8L190.6 93.3ZM194.0 90.3L195.0 93.3L195.0 117.8L194.0 120.8L193.1 117.8L193.1 93.3ZM196.5 90.3L197.5 93.3L197.5 117.8L196.5 120.8L195.6 117.8L195.6 93.3ZM199.1 90.3L200.0 93.3L200.0 117.8L199.1 120.8L198.1 117.8L198.1 93.3ZM201.6 90.3L202.5 93.3L202.5 117.8L201.6 120.8L200.6 117.8L200.6 93.3ZM204.1 90.3L205.0 93.3L205.0 117.8L204.1 120.8L203.1 117.8L203.1 93.3ZM206.6 90.4L207.5 93.4L207.5 117.8L206.6 120.8L205.6 117.8L205.6 93.4ZM209.1 90.4L210.0 93.4L210.0 117.8L209.1 120.8L208.1 117.8L208.1 93.4ZM211.6 90.4L212.6 93.4L212.6 117.8L211.6 120.8L210.7 117.8L210.7 93.4ZM214.1 90.4L215.1 93.4L215.1 117.8L214.1 120.8L213.2 117.8L213.2 93.4ZM216.6 90.4L217.6 93.4L217.6 117.8L216.6 120.8L215.7 117.8L215.7 93.4ZM219.1 90.4L220.1 93.4L220.1 117.8L219.1 120.8L218.2 117.8L218.2 93.4ZM221.6 90.5L222.6 93.5L222.6 117.8L221.6 120.8L220.7 117.8L220.7 93.5ZM224.2 90.5L225.1 93.5L225.1 117.8L224.2 120.8L223.2 117.8L223.2 93.5ZM226.7 90.5L227.6 93.5L227.6 117.8L226.7 120.8L225.7 117.8L225.7 93.5ZM229.2 90.5L230.1 93.5L230.1 117.8L229.2 120.8L228.2 117.8L228.2 93.5ZM231.7 90.5L232.6 93.5L232.6 117.8L231.7 120.8L230.7 117.8L230.7 93.5ZM234.2 90.5L235.2 93.5L235.2 117.8L234.2 120.8L233.3 117.8L233.3 93.5Z"/>
<polygon points="128.3,117.7 131.1,118.9 133.9,119.5 136.6,120.2 139.4,120.8 142.2,121.4 144.9,122.1 147.7,122.7 150.5,123.3 153.3,123.5 156.0,123.8 158.8,124.0 161.6,124.2 164.3,124.4 167.1,124.6 169.9,124.9 172.6,125.1 175.4,125.2 178.2,125.2 180.9,125.1 183.7,125.1 186.5,125.1 189.2,125.1 192.0,125.1 194.8,125.1 197.5,125.1 200.3,125.1 203.1,125.1 205.8,125.1 208.6,125.1 211.4,125.1 214.2,125.1 216.9,125.1 219.7,125.1 222.5,125.1 225.2,125.1 228.0,125.1 230.8,125.1 233.5,125.1 236.3,125.1 236.3,132.5 233.5,132.5 230.8,132.5 228.0,132.5 225.2,132.5 222.5,132.5 219.7,132.5 216.9,132.5 214.2,132.5 211.4,132.5 208.6,132.5 205.8,132.5 203.1,132.5 200.3,132.5 197.5,132.5 194.8,132.5 192.0,132.5 189.2,132.5 186.5,132.5 183.7,132.6 180.9,132.7 178.2,132.8 175.4,132.9 172.6,133.0 169.9,133.1 167.1,133.2 164.3,133.3 161.6,133.5 158.8,133.7 156.0,133.9 153.3,134.1 150.5,134.3 147.7,134.5 144.9,134.7 142.2,134.9 139.4,135.0 136.6,135.2 133.9,135.4 131.1,135.5 128.3,135.9" fill="url(#rg)" fill-opacity="1.0"/>
<polygon points="113.3,94.4 116.4,94.3 119.6,94.1 122.7,94.0 125.9,93.8 129.0,93.7 132.2,93.5 135.4,93.3 138.5,93.2 141.7,93.0 144.8,92.9 148.0,92.7 151.1,92.6 154.3,92.5 157.4,92.4 160.6,92.3 163.7,92.2 166.9,92.1 170.1,92.0 173.2,91.9 176.4,91.8 179.5,91.8 182.7,91.8 185.8,91.8 189.0,91.8 192.1,91.8 195.3,91.8 198.4,91.8 201.6,91.8 204.8,91.8 207.9,91.8 211.1,91.8 214.2,91.8 217.4,91.8 220.5,91.8 223.7,91.8 226.8,91.8 230.0,91.8 233.1,91.8 236.3,91.8 236.3,118.5 233.1,118.5 230.0,118.5 226.8,118.5 223.7,118.5 220.5,118.5 217.4,118.5 214.2,118.5 211.1,118.5 207.9,118.5 204.8,118.5 201.6,118.5 198.4,118.5 195.3,118.5 192.1,118.5 189.0,118.5 185.8,118.5 182.7,118.5 179.5,118.5 176.4,118.5 173.2,118.5 170.1,118.5 166.9,118.5 163.7,118.5 160.6,118.5 157.4,118.5 154.3,118.5 151.1,118.5 148.0,118.5 144.8,118.1 141.7,117.7 138.5,117.4 135.4,117.0 132.2,116.7 129.0,116.1 125.9,114.6 122.7,113.1 119.6,111.6 116.4,110.1 113.3,108.6" fill="#2f2cff" fill-opacity="1.0"/></g></g>
<g stroke="#000" fill="none">
<line x1="48" y1="11" x2="48" y2="186.5" stroke-width="2"/>
<line x1="47" y1="185.5" x2="237.3" y2="185.5" stroke-width="2"/>
<line x1="47" y1="12.1" x2="58.3" y2="12.1" stroke-width="1.8"/>
<line x1="47" y1="55.3" x2="58.3" y2="55.3" stroke-width="1.8"/>
<line x1="47" y1="98.3" x2="58.3" y2="98.3" stroke-width="1.8"/>
<line x1="47" y1="142.0" x2="58.3" y2="142.0" stroke-width="1.8"/>
<line x1="110.77" y1="176" x2="110.77" y2="186" stroke-width="1.6"/>
<line x1="173.53" y1="176" x2="173.53" y2="186" stroke-width="1.6"/>
<line x1="236.30" y1="176" x2="236.30" y2="186" stroke-width="1.6"/>
<line x1="5.8" y1="141.6" x2="15.4" y2="141.6" stroke-width="1"/>
<line x1="6" y1="184.9" x2="15.6" y2="184.9" stroke-width="1"/>
</g>
<g font-size="18" fill="#000">
<text transform="translate(38.9,16.9) scale(0.92,1)" text-anchor="end">1.0</text>
<text transform="translate(38.9,60.0) scale(0.92,1)" text-anchor="end">0.5</text>
<text transform="translate(38.9,103.3) scale(0.92,1)" text-anchor="end">0</text>
<text transform="translate(38.9,146.9) scale(0.92,1)" text-anchor="end">0.5</text>
<text transform="translate(38.9,190.3) scale(0.92,1)" text-anchor="end">1.0</text>
<text transform="translate(48.50,208.4) scale(0.89,1)" text-anchor="middle">0</text>
<text transform="translate(109.97,208.4) scale(0.89,1)" text-anchor="middle">500</text>
<text transform="translate(172.73,208.4) scale(0.89,1)" text-anchor="middle">1000</text>
<text transform="translate(235.50,208.4) scale(0.89,1)" text-anchor="middle">1500</text>
<text x="201.8" y="216.8" font-style="italic" font-size="17">t</text>
<text x="-0.6" y="37.6" font-style="italic" font-size="17">m<tspan font-size="11.5" dx="0.8" dy="2.8">i</tspan></text>
</g>
</g>
<g transform="translate(252.5,0)">
<g clip-path="url(#cp)"><g filter="url(#bl)"><polygon points="49.0,13.0 61.0,13.0 67.0,30.0 68.0,56.0 65.0,50.0 58.0,37.0 49.0,21.0" fill="#c8ccff" fill-opacity="0.85"/>
<polygon points="60.0,13.0 66.0,13.0 68.0,56.0 65.0,50.0 62.0,44.0" fill="#c0e0ee" fill-opacity="0.6"/>
<polygon points="49.0,44.0 55.0,62.0 62.0,80.0 66.0,100.0 60.0,100.0 58.0,80.0 49.0,76.0" fill="#665cb0" fill-opacity="1.0"/>
<polygon points="49.0,74.0 58.0,78.0 61.0,100.0 60.0,140.0 49.0,140.0" fill="#8e7e26" fill-opacity="1.0"/>
<polygon points="49.0,138.0 59.0,138.0 59.0,150.0 49.0,150.0" fill="#82b450" fill-opacity="1.0"/>
<polygon points="49.0,78.0 50.5,78.0 50.5,140.0 49.0,140.0" fill="#88b030" fill-opacity="1.0"/>
<polygon points="49.0,149.0 58.0,149.0 59.0,184.0 49.0,184.0" fill="#ee9a92" fill-opacity="1.0"/>
<polygon points="58.0,98.0 61.0,98.0 66.0,100.0 70.0,110.0 70.0,184.0 59.0,184.0 60.0,140.0" fill="#c4c690" fill-opacity="0.9"/>
<polygon points="60.1,13.2 66.8,13.2 71.9,44.1 68.1,42.4 60.1,34.7" fill="#e4d8ec" fill-opacity="0.7"/>
<polygon points="59.3,115.5 60.9,120.9 62.4,125.8 64.0,130.1 65.5,133.4 67.1,135.3 68.7,137.2 70.2,139.1 71.8,141.0 73.4,142.9 74.9,144.8 76.5,146.7 78.1,148.8 79.6,151.0 81.2,153.1 82.7,155.3 84.3,157.5 85.9,159.0 87.4,160.0 89.0,161.0 90.6,161.9 92.1,162.9 93.7,163.9 95.2,164.9 96.8,165.8 98.4,166.6 99.9,167.4 101.5,168.1 103.1,168.8 104.6,169.5 106.2,170.2 107.7,170.7 109.3,171.0 110.9,171.4 112.4,171.7 114.0,172.0 115.6,172.4 117.1,172.7 118.7,173.0 120.2,173.4 121.8,173.7 123.4,174.0 124.9,174.4 126.5,174.7 128.1,175.1 129.6,175.4 131.2,175.8 132.7,176.1 134.3,176.5 135.9,176.8 135.9,182.1 134.3,182.2 132.7,182.3 131.2,182.3 129.6,182.4 128.1,182.4 126.5,182.5 124.9,182.5 123.4,182.6 121.8,182.6 120.2,182.7 118.7,182.7 117.1,182.8 115.6,182.8 114.0,182.9 112.4,183.0 110.9,183.0 109.3,183.0 107.7,183.0 106.2,183.0 104.6,183.0 103.1,183.0 101.5,183.0 99.9,183.0 98.4,183.0 96.8,183.0 95.2,183.0 93.7,183.0 92.1,183.0 90.6,183.0 89.0,183.0 87.4,183.0 85.9,183.0 84.3,183.0 82.7,183.0 81.2,183.0 79.6,183.0 78.1,183.0 76.5,183.0 74.9,183.0 73.4,183.0 71.8,183.0 70.2,183.0 68.7,183.0 67.1,183.0 65.5,183.0 64.0,183.0 62.4,183.0 60.9,168.2 59.3,143.7" fill="#b8eeb8" fill-opacity="0.8"/>
<path fill="#44bb44" fill-opacity="0.55" d="M56.1 12.3L56.7 15.3L56.7 98.4L56.1 101.4L55.4 98.4L55.4 15.3ZM59.0 12.3L59.6 15.3L59.6 135.9L59.0 138.9L58.3 135.9L58.3 15.3ZM62.1 12.3L62.7 15.3L62.7 180.0L62.1 183.0L61.4 180.0L61.4 15.3ZM65.4 12.3L66.0 15.3L66.0 180.0L65.4 183.0L64.7 180.0L64.7 15.3ZM68.9 28.8L69.5 31.8L69.5 180.0L68.9 183.0L68.2 180.0L68.2 31.8ZM72.4 100.9L73.0 103.9L73.0 180.0L72.4 183.0L71.7 180.0L71.7 103.9ZM75.9 138.3L76.5 141.3L76.5 180.0L75.9 183.0L75.2 180.0L75.2 141.3ZM79.4 150.7L80.0 153.7L80.0 180.0L79.4 183.0L78.7 180.0L78.7 153.7ZM82.9 155.5L83.5 158.5L83.5 180.0L82.9 183.0L82.2 180.0L82.2 158.5ZM86.4 159.3L87.0 162.3L87.0 180.0L86.4 183.0L85.7 180.0L85.7 162.3ZM89.8 161.5L90.5 164.5L90.5 180.0L89.8 183.0L89.2 180.0L89.2 164.5ZM93.3 163.7L94.0 166.7L94.0 180.0L93.3 183.0L92.7 180.0L92.7 166.7ZM96.8 165.8L97.4 168.8L97.4 180.0L96.8 183.0L96.1 180.0L96.1 168.8ZM100.3 167.5L100.9 170.5L100.9 180.0L100.3 183.0L99.6 180.0L99.6 170.5ZM103.7 169.1L104.4 172.1L104.4 180.0L103.7 183.0L103.1 180.0L103.1 172.1ZM107.1 170.6L107.8 173.6L107.8 180.0L107.1 183.0L106.5 180.0L106.5 173.6ZM110.4 171.3L111.1 174.3L111.1 180.0L110.4 183.0L109.8 180.0L109.8 174.3ZM113.6 172.0L114.3 175.0L114.3 179.9L113.6 182.9L113.0 179.9L113.0 175.0ZM116.7 172.6L117.3 175.6L117.3 179.8L116.7 182.8L116.0 179.8L116.0 175.6ZM119.6 173.2L120.3 176.2L120.3 179.7L119.6 182.7L119.0 179.7L119.0 176.2ZM122.5 173.9L123.1 176.9L123.1 179.6L122.5 182.6L121.8 179.6L121.8 176.9ZM125.2 174.4L125.9 177.4L125.9 179.5L125.2 182.5L124.6 179.5L124.6 177.4ZM128.0 175.0L128.6 178.0L128.6 179.4L128.0 182.4L127.3 179.4L127.3 178.0ZM130.7 175.7L131.3 178.7L131.3 179.3L130.7 182.3L130.0 179.3L130.0 178.7ZM133.3 176.3L134.0 179.3L134.0 179.3L133.3 182.2L132.7 179.3L132.7 179.3ZM136.0 176.9L136.6 179.5L136.6 179.5L136.0 182.1L135.3 179.5L135.3 179.5ZM138.6 177.5L139.3 179.8L139.3 179.8L138.6 182.1L138.0 179.8L138.0 179.8ZM141.2 178.1L141.9 180.1L141.9 180.1L141.2 182.1L140.6 180.1L140.6 180.1ZM143.8 178.3L144.4 180.2L144.4 180.2L143.8 182.0L143.1 180.2L143.1 180.2ZM146.3 178.4L147.0 180.2L147.0 180.2L146.3 182.0L145.7 180.2L145.7 180.2ZM148.8 178.5L149.5 180.2L149.5 180.2L148.8 181.9L148.2 180.2L148.2 180.2ZM151.4 178.6L152.0 180.3L152.0 180.3L151.4 181.9L150.7 180.3L150.7 180.3ZM153.9 178.7L154.5 180.3L154.5 180.3L153.9 181.9L153.2 180.3L153.2 180.3ZM156.4 178.8L157.0 180.3L157.0 180.3L156.4 181.8L155.7 180.3L155.7 180.3ZM158.9 178.9L159.5 180.3L159.5 180.3L158.9 181.8L158.2 180.3L158.2 180.3ZM161.4 179.0L162.0 180.4L162.0 180.4L161.4 181.7L160.7 180.4L160.7 180.4ZM163.9 179.1L164.6 180.4L164.6 180.4L163.9 181.7L163.3 180.4L163.3 180.4ZM166.4 179.1L167.1 180.4L167.1 180.4L166.4 181.7L165.8 180.4L165.8 180.4ZM168.9 179.2L169.6 180.4L169.6 180.4L168.9 181.6L168.3 180.4L168.3 180.4ZM171.4 179.3L172.1 180.5L172.1 180.5L171.4 181.6L170.8 180.5L170.8 180.5ZM173.9 179.4L174.6 180.5L174.6 180.5L173.9 181.5L173.3 180.5L173.3 180.5ZM176.5 179.4L177.1 180.5L177.1 180.5L176.5 181.5L175.8 180.5L175.8 180.5ZM179.0 179.4L179.6 180.5L179.6 180.5L179.0 181.5L178.3 180.5L178.3 180.5ZM181.5 179.4L182.1 180.5L182.1 180.5L181.5 181.5L180.8 180.5L180.8 180.5ZM184.0 179.4L184.6 180.5L184.6 180.5L184.0 181.5L183.3 180.5L183.3 180.5ZM186.5 179.5L187.1 180.5L187.1 180.5L186.5 181.5L185.8 180.5L185.8 180.5ZM189.0 179.5L189.7 180.5L189.7 180.5L189.0 181.5L188.4 180.5L188.4 180.5ZM191.5 179.5L192.2 180.5L192.2 180.5L191.5 181.4L190.9 180.5L190.9 180.5ZM194.0 179.5L194.7 180.5L194.7 180.5L194.0 181.4L193.4 180.5L193.4 180.5ZM196.5 179.5L197.2 180.5L197.2 180.5L196.5 181.4L195.9 180.5L195.9 180.5ZM199.1 179.5L199.7 180.5L199.7 180.5L199.1 181.4L198.4 180.5L198.4 180.5ZM201.6 179.5L202.2 180.5L202.2 180.5L201.6 181.4L200.9 180.5L200.9 180.5ZM204.1 179.5L204.7 180.5L204.7 180.5L204.1 181.4L203.4 180.5L203.4 180.5ZM206.6 179.5L207.2 180.5L207.2 180.5L206.6 181.4L205.9 180.5L205.9 180.5ZM209.1 179.5L209.7 180.4L209.7 180.4L209.1 181.4L208.4 180.4L208.4 180.4ZM211.6 179.6L212.3 180.4L212.3 180.4L211.6 181.3L211.0 180.4L211.0 180.4ZM214.1 179.6L214.8 180.4L214.8 180.4L214.1 181.3L213.5 180.4L213.5 180.4ZM216.6 179.6L217.3 180.4L217.3 180.4L216.6 181.3L216.0 180.4L216.0 180.4ZM219.1 179.6L219.8 180.4L219.8 180.4L219.1 181.3L218.5 180.4L218.5 180.4ZM221.6 179.6L222.3 180.4L222.3 180.4L221.6 181.3L221.0 180.4L221.0 180.4ZM224.2 179.6L224.8 180.4L224.8 180.4L224.2 181.3L223.5 180.4L223.5 180.4ZM226.7 179.6L227.3 180.4L227.3 180.4L226.7 181.3L226.0 180.4L226.0 180.4ZM229.2 179.6L229.8 180.4L229.8 180.4L229.2 181.2L228.5 180.4L228.5 180.4ZM231.7 179.6L232.3 180.4L232.3 180.4L231.7 181.2L231.0 180.4L231.0 180.4ZM234.2 179.6L234.9 180.4L234.9 180.4L234.2 181.2L233.6 180.4L233.6 180.4Z"/>
<path fill="#e00008" fill-opacity="0.6" d="M53.3 112.3L53.9 115.3L53.9 181.3L53.3 184.3L52.6 181.3L52.6 115.3ZM56.1 73.9L56.7 76.9L56.7 181.3L56.1 184.3L55.4 181.3L55.4 76.9ZM59.0 33.7L59.6 36.7L59.6 181.3L59.0 184.3L58.3 181.3L58.3 36.7ZM62.1 12.9L62.7 15.9L62.7 181.3L62.1 184.3L61.4 181.3L61.4 15.9ZM65.4 14.3L66.0 17.3L66.0 181.3L65.4 184.3L64.7 181.3L64.7 17.3ZM68.9 17.4L69.5 20.4L69.5 181.3L68.9 184.3L68.2 181.3L68.2 20.4ZM72.4 21.7L73.0 24.7L73.0 180.7L72.4 183.7L71.7 180.7L71.7 24.7ZM75.9 25.7L76.5 28.7L76.5 177.0L75.9 180.0L75.2 177.0L75.2 28.7ZM79.4 29.5L80.0 32.5L80.0 173.3L79.4 176.3L78.7 173.3L78.7 32.5ZM82.9 34.3L83.5 37.3L83.5 169.5L82.9 172.5L82.2 169.5L82.2 37.3ZM86.4 38.5L87.0 41.5L87.0 165.6L86.4 168.6L85.7 165.6L85.7 41.5ZM89.8 40.4L90.5 43.4L90.5 161.7L89.8 164.7L89.2 161.7L89.2 43.4ZM93.3 42.3L94.0 45.3L94.0 157.5L93.3 160.5L92.7 157.5L92.7 45.3ZM96.8 44.2L97.4 47.2L97.4 153.3L96.8 156.3L96.1 153.3L96.1 47.2ZM100.3 46.9L100.9 49.9L100.9 149.2L100.3 152.2L99.6 149.2L99.6 49.9ZM103.7 50.3L104.4 53.3L104.4 146.3L103.7 149.3L103.1 146.3L103.1 53.3ZM107.1 73.5L107.8 76.5L107.8 143.4L107.1 146.4L106.5 143.4L106.5 76.5Z"/>
<path fill="#e00008" fill-opacity="0.75" d="M112.0 104.1L112.7 107.1L112.7 140.1L112.0 143.1L111.4 140.1L111.4 107.1ZM115.2 107.8L115.8 110.8L115.8 138.3L115.2 141.3L114.5 138.3L114.5 110.8ZM118.2 109.7L118.8 112.7L118.8 137.4L118.2 140.4L117.5 137.4L117.5 112.7ZM121.1 111.6L121.7 114.6L121.7 136.5L121.1 139.5L120.4 136.5L120.4 114.6ZM123.9 113.4L124.5 116.4L124.5 135.7L123.9 138.7L123.2 135.7L123.2 116.4ZM126.6 115.1L127.3 118.1L127.3 134.9L126.6 137.9L126.0 134.9L126.0 118.1ZM129.3 116.8L130.0 119.8L130.0 134.1L129.3 137.1L128.7 134.1L128.7 119.8ZM132.0 117.7L132.7 120.7L132.7 133.8L132.0 136.8L131.4 133.8L131.4 120.7ZM134.7 118.4L135.3 121.4L135.3 133.6L134.7 136.6L134.0 133.6L134.0 121.4ZM137.3 119.1L138.0 122.1L138.0 133.4L137.3 136.4L136.7 133.4L136.7 122.1ZM139.9 119.8L140.6 122.8L140.6 133.1L139.9 136.1L139.3 133.1L139.3 122.8ZM142.5 120.4L143.1 123.4L143.1 132.9L142.5 135.9L141.8 132.9L141.8 123.4ZM145.1 121.1L145.7 124.1L145.7 132.7L145.1 135.7L144.4 132.7L144.4 124.1ZM147.6 121.7L148.2 124.7L148.2 132.5L147.6 135.5L146.9 132.5L146.9 124.7ZM150.1 122.4L150.7 125.4L150.7 132.3L150.1 135.3L149.4 132.3L149.4 125.4ZM152.6 122.6L153.3 125.6L153.3 132.1L152.6 135.1L152.0 132.1L152.0 125.6ZM155.1 122.8L155.8 125.8L155.8 131.8L155.1 134.8L154.5 131.8L154.5 125.8ZM157.6 123.1L158.3 126.1L158.3 131.6L157.6 134.6L157.0 131.6L157.0 126.1ZM160.1 123.3L160.8 126.3L160.8 131.4L160.1 134.4L159.5 131.4L159.5 126.3ZM162.6 123.5L163.3 126.5L163.3 131.2L162.6 134.2L162.0 131.2L162.0 126.5ZM165.2 123.8L165.8 126.8L165.8 131.0L165.2 134.0L164.5 131.0L164.5 126.8ZM167.7 124.0L168.3 127.0L168.3 130.9L167.7 133.9L167.0 130.9L167.0 127.0ZM170.2 124.2L170.8 127.2L170.8 130.8L170.2 133.8L169.5 130.8L169.5 127.2ZM172.7 124.5L173.3 127.5L173.3 130.7L172.7 133.7L172.0 130.7L172.0 127.5ZM175.2 124.5L175.9 127.5L175.9 130.6L175.2 133.6L174.6 130.6L174.6 127.5ZM177.7 124.5L178.4 127.5L178.4 130.5L177.7 133.5L177.1 130.5L177.1 127.5ZM180.2 124.5L180.9 127.5L180.9 130.4L180.2 133.4L179.6 130.4L179.6 127.5ZM182.7 124.5L183.4 127.5L183.4 130.3L182.7 133.3L182.1 130.3L182.1 127.5ZM185.2 124.5L185.9 127.5L185.9 130.2L185.2 133.2L184.6 130.2L184.6 127.5ZM187.8 124.5L188.4 127.5L188.4 130.1L187.8 133.1L187.1 130.1L187.1 127.5ZM190.3 124.5L190.9 127.5L190.9 130.1L190.3 133.1L189.6 130.1L189.6 127.5ZM192.8 124.5L193.4 127.5L193.4 130.1L192.8 133.1L192.1 130.1L192.1 127.5ZM195.3 124.5L195.9 127.5L195.9 130.1L195.3 133.1L194.6 130.1L194.6 127.5ZM197.8 124.5L198.4 127.5L198.4 130.1L197.8 133.1L197.1 130.1L197.1 127.5ZM200.3 124.5L201.0 127.5L201.0 130.1L200.3 133.1L199.7 130.1L199.7 127.5ZM202.8 124.5L203.5 127.5L203.5 130.1L202.8 133.1L202.2 130.1L202.2 127.5ZM205.3 124.5L206.0 127.5L206.0 130.1L205.3 133.1L204.7 130.1L204.7 127.5ZM207.8 124.5L208.5 127.5L208.5 130.1L207.8 133.1L207.2 130.1L207.2 127.5ZM210.3 124.5L211.0 127.5L211.0 130.1L210.3 133.1L209.7 130.1L209.7 127.5ZM212.9 124.5L213.5 127.5L213.5 130.1L212.9 133.1L212.2 130.1L212.2 127.5ZM215.4 124.5L216.0 127.5L216.0 130.1L215.4 133.1L214.7 130.1L214.7 127.5ZM217.9 124.5L218.5 127.5L218.5 130.1L217.9 133.1L217.2 130.1L217.2 127.5ZM220.4 124.5L221.0 127.5L221.0 130.1L220.4 133.1L219.7 130.1L219.7 127.5ZM222.9 124.5L223.6 127.5L223.6 130.1L222.9 133.1L222.3 130.1L222.3 127.5ZM225.4 124.5L226.1 127.5L226.1 130.1L225.4 133.1L224.8 130.1L224.8 127.5ZM227.9 124.5L228.6 127.5L228.6 130.1L227.9 133.1L227.3 130.1L227.3 127.5ZM230.4 124.5L231.1 127.5L231.1 130.1L230.4 133.1L229.8 130.1L229.8 127.5ZM232.9 124.5L233.6 127.5L233.6 130.1L232.9 133.1L232.3 130.1L232.3 127.5ZM235.5 124.5L236.1 127.5L236.1 130.1L235.5 133.1L234.8 130.1L234.8 127.5Z"/>
<path fill="none" stroke="url(#gg)" stroke-width="1.35" stroke-linejoin="round" d="M108.3 171.7 108.5 174.1 108.8 177.2 109.1 180.2 109.4 182.3 109.6 183.0 109.9 182.1 110.2 179.9 110.4 176.9 110.7 174.1 111.0 172.1 111.3 171.5 111.5 172.4 111.8 174.6 112.1 177.5 112.3 180.3 112.6 182.3 112.8 182.9 113.1 182.1 113.4 179.9 113.6 177.2 113.9 174.5 114.2 172.7 114.4 172.1 114.7 173.0 114.9 175.1 115.2 177.8 115.4 180.5 115.7 182.3 115.9 182.8 116.2 182.0 116.5 180.0 116.7 177.4 117.0 175.0 117.2 173.3 117.5 172.8 117.7 173.7 117.9 175.6 118.2 178.1 118.4 180.6 118.7 182.2 118.9 182.7 119.2 181.9 119.4 180.1 119.7 177.7 119.9 175.4 120.1 173.8 120.4 173.4 120.6 174.2 120.9 176.1 121.1 178.4 121.3 180.7 121.6 182.2 121.8 182.6 122.0 181.9 122.3 180.1 122.5 177.9 122.7 175.8 123.0 174.4 123.2 174.0 123.4 174.8 123.7 176.5 123.9 178.7 124.1 180.7 124.4 182.1 124.6 182.5 124.8 181.8 125.0 180.2 125.3 178.2 125.5 176.2 125.7 174.9 126.0 174.6 126.2 175.3 126.4 176.9 126.6 178.9 126.9 180.8 127.1 182.1 127.3 182.4 127.5 181.8 127.8 180.3 128.0 178.4 128.2 176.7 128.5 175.5 128.7 175.2 128.9 175.9 129.1 177.3 129.4 179.2 129.6 180.9 129.8 182.0 130.0 182.3 130.3 181.7 130.5 180.4 130.7 178.7 130.9 177.1 131.2 176.1 131.4 175.8 131.6 176.5 131.8 177.8 132.0 179.4 132.3 180.9 132.5 182.0 132.7 182.2 132.9 181.7 133.2 180.5 133.4 179.0 133.6 177.6 133.8 176.6 134.0 176.4 134.3 177.0 134.5 178.2 134.7 179.6 134.9 181.0 135.1 181.9 135.4 182.2 135.6 181.7 135.8 180.6 136.0 179.3 136.2 178.0 136.5 177.2 136.7 177.0 136.9 177.5 137.1 178.6 137.3 179.9 137.6 181.1 137.8 181.9 138.0 182.1 138.2 181.7 138.4 180.7 138.7 179.6 138.9 178.5 139.1 177.8 139.3 177.6 139.5 178.1 139.7 179.0 140.0 180.1 140.2 181.2 140.4 181.9 140.6 182.1 140.8 181.7 141.0 180.9 141.2 179.9 141.5 178.9 141.7 178.3 141.9 178.2 142.1 178.6 142.3 179.4 142.5 180.4 142.7 181.3 143.0 181.9 143.2 182.0 143.4 181.7 143.6 180.9 143.8 180.0 144.0 179.1 144.2 178.5 144.5 178.4 144.7 178.7 144.9 179.4 145.1 180.4 145.3 181.3 145.5 181.8 145.7 182.0 145.9 181.7 146.2 180.9 146.4 180.0 146.6 179.2 146.8 178.6 147.0 178.5 147.2 178.8 147.4 179.5 147.6 180.4 147.8 181.2 148.0 181.8 148.3 181.9 148.5 181.6 148.7 180.9 148.9 180.1 149.1 179.2 149.3 178.7 149.5 178.6 149.7 178.9 149.9 179.6 150.1 180.4 150.3 181.2 150.6 181.8 150.8 181.9 151.0 181.6 151.2 180.9 151.4 180.1 151.6 179.3 151.8 178.8 152.0 178.6 152.2 178.9 152.4 179.6 152.6 180.4 152.9 181.2 153.1 181.7 153.3 181.9 153.5 181.6 153.7 180.9 153.9 180.1 154.1 179.4 154.3 178.8 154.5 178.7 154.7 179.0 154.9 179.7 155.2 180.5 155.4 181.2 155.6 181.7 155.8 181.8 156.0 181.5 156.2 180.9 156.4 180.1 156.6 179.4 156.8 178.9 157.0 178.8 157.3 179.1 157.5 179.7 157.7 180.5 157.9 181.2 158.1 181.7 158.3 181.8 158.5 181.5 158.7 180.9 158.9 180.2 159.1 179.5 159.3 179.0 159.6 178.9 159.8 179.2 160.0 179.8 160.2 180.5 160.4 181.2 160.6 181.6 160.8 181.7 161.0 181.5 161.2 180.9 161.4 180.2 161.6 179.5 161.9 179.1 162.1 179.0 162.3 179.3 162.5 179.8 162.7 180.5 162.9 181.2 163.1 181.6 163.3 181.7 163.5 181.5 163.7 180.9 163.9 180.2 164.2 179.6 164.4 179.2 164.6 179.1 164.8 179.3 165.0 179.9 165.2 180.5 165.4 181.1 165.6 181.6 165.8 181.7 166.0 181.4 166.2 180.9 166.5 180.3 166.7 179.7 166.9 179.3 167.1 179.2 167.3 179.4 167.5 179.9 167.7 180.5 167.9 181.1 168.1 181.5 168.3 181.6 168.5 181.4 168.8 180.9 169.0 180.3 169.2 179.7 169.4 179.4 169.6 179.3 169.8 179.5 170.0 180.0 170.2 180.6 170.4 181.1 170.6 181.5 170.8 181.6 171.1 181.4 171.3 180.9 171.5 180.3 171.7 179.8 171.9 179.4 172.1 179.4 172.3 179.6 172.5 180.0 172.7 180.6 172.9 181.1 173.2 181.5 173.4 181.5 173.6 181.3 173.8 180.9 174.0 180.4 174.2 179.8 174.4 179.5 174.6 179.4 174.8 179.6 175.0 180.0 175.2 180.6 175.5 181.1 175.7 181.4 175.9 181.5 176.1 181.3 176.3 180.9 176.5 180.4 176.7 179.8 176.9 179.5 177.1 179.4 177.3 179.6 177.5 180.0 177.8 180.6 178.0 181.1 178.2 181.4 178.4 181.5 178.6 181.3 178.8 180.9 179.0 180.4 179.2 179.9 179.4 179.5 179.6 179.4 179.8 179.6 180.1 180.0 180.3 180.6 180.5 181.1 180.7 181.4 180.9 181.5 181.1 181.3 181.3 180.9 181.5 180.4 181.7 179.9 181.9 179.5 182.1 179.4 182.4 179.6 182.6 180.0 182.8 180.6 183.0 181.1 183.2 181.4 183.4 181.5 183.6 181.3 183.8 180.9 184.0 180.4 184.2 179.9 184.4 179.5 184.7 179.4 184.9 179.6 185.1 180.1 185.3 180.6 185.5 181.1 185.7 181.4 185.9 181.5 186.1 181.3 186.3 180.9 186.5 180.4 186.8 179.9 187.0 179.5 187.2 179.5 187.4 179.6 187.6 180.1 187.8 180.6 188.0 181.1 188.2 181.4 188.4 181.5 188.6 181.3 188.8 180.9 189.1 180.4 189.3 179.9 189.5 179.5 189.7 179.5 189.9 179.7 190.1 180.1 190.3 180.6 190.5 181.0 190.7 181.4 190.9 181.4 191.1 181.3 191.4 180.9 191.6 180.4 191.8 179.9 192.0 179.6 192.2 179.5 192.4 179.7 192.6 180.1 192.8 180.6 193.0 181.0 193.2 181.4 193.4 181.4 193.7 181.3 193.9 180.9 194.1 180.4 194.3 179.9 194.5 179.6 194.7 179.5 194.9 179.7 195.1 180.1 195.3 180.6 195.5 181.0 195.7 181.3 196.0 181.4 196.2 181.2 196.4 180.9 196.6 180.4 196.8 179.9 197.0 179.6 197.2 179.5 197.4 179.7 197.6 180.1 197.8 180.6 198.0 181.0 198.3 181.3 198.5 181.4 198.7 181.2 198.9 180.8 199.1 180.4 199.3 179.9 199.5 179.6 199.7 179.5 199.9 179.7 200.1 180.1 200.3 180.6 200.6 181.0 200.8 181.3 201.0 181.4 201.2 181.2 201.4 180.8 201.6 180.4 201.8 179.9 202.0 179.6 202.2 179.5 202.4 179.7 202.7 180.1 202.9 180.6 203.1 181.0 203.3 181.3 203.5 181.4 203.7 181.2 203.9 180.8 204.1 180.4 204.3 179.9 204.5 179.6 204.7 179.5 205.0 179.7 205.2 180.1 205.4 180.5 205.6 181.0 205.8 181.3 206.0 181.4 206.2 181.2 206.4 180.8 206.6 180.4 206.8 179.9 207.0 179.6 207.3 179.5 207.5 179.7 207.7 180.1 207.9 180.5 208.1 181.0 208.3 181.3 208.5 181.4 208.7 181.2 208.9 180.8 209.1 180.4 209.3 179.9 209.6 179.6 209.8 179.6 210.0 179.7 210.2 180.1 210.4 180.5 210.6 181.0 210.8 181.3 211.0 181.3 211.2 181.2 211.4 180.8 211.6 180.4 211.9 179.9 212.1 179.6 212.3 179.6 212.5 179.7 212.7 180.1 212.9 180.5 213.1 181.0 213.3 181.3 213.5 181.3 213.7 181.2 213.9 180.8 214.2 180.4 214.4 179.9 214.6 179.6 214.8 179.6 215.0 179.7 215.2 180.1 215.4 180.5 215.6 181.0 215.8 181.2 216.0 181.3 216.2 181.1 216.5 180.8 216.7 180.4 216.9 179.9 217.1 179.7 217.3 179.6 217.5 179.7 217.7 180.1 217.9 180.5 218.1 180.9 218.3 181.2 218.6 181.3 218.8 181.1 219.0 180.8 219.2 180.4 219.4 179.9 219.6 179.7 219.8 179.6 220.0 179.8 220.2 180.1 220.4 180.5 220.6 180.9 220.9 181.2 221.1 181.3 221.3 181.1 221.5 180.8 221.7 180.4 221.9 179.9 222.1 179.7 222.3 179.6 222.5 179.8 222.7 180.1 222.9 180.5 223.2 180.9 223.4 181.2 223.6 181.3 223.8 181.1 224.0 180.8 224.2 180.4 224.4 179.9 224.6 179.7 224.8 179.6 225.0 179.8 225.2 180.1 225.5 180.5 225.7 180.9 225.9 181.2 226.1 181.3 226.3 181.1 226.5 180.8 226.7 180.4 226.9 180.0 227.1 179.7 227.3 179.6 227.5 179.8 227.8 180.1 228.0 180.5 228.2 180.9 228.4 181.2 228.6 181.2 228.8 181.1 229.0 180.8 229.2 180.4 229.4 180.0 229.6 179.7 229.8 179.6 230.1 179.8 230.3 180.1 230.5 180.5 230.7 180.9 230.9 181.2 231.1 181.2 231.3 181.1 231.5 180.8 231.7 180.4 231.9 180.0 232.2 179.7 232.4 179.6 232.6 179.8 232.8 180.1 233.0 180.5 233.2 180.9 233.4 181.2 233.6 181.2 233.8 181.1 234.0 180.8 234.2 180.3 234.5 180.0 234.7 179.7 234.9 179.7 235.1 179.8 235.3 180.1 235.5 180.5 235.7 180.9 235.9 181.1 236.1 181.2 236.3 181.1"/>
<polygon points="49.0,21.0 58.0,37.0 65.0,50.0 77.0,63.0 93.0,85.0 109.0,92.0 109.0,118.0 93.0,112.0 77.0,101.0 62.0,82.0 55.0,65.0 49.0,47.0" fill="url(#bandg)"/>
<path fill="url(#bgb)" d="M68.9 42.8L69.8 45.8L69.8 127.7L68.9 130.7L67.9 127.7L67.9 45.8ZM72.4 44.5L73.3 47.5L73.3 137.0L72.4 140.0L71.4 137.0L71.4 47.5ZM75.9 46.2L76.8 49.2L76.8 137.6L75.9 140.6L74.9 137.6L74.9 49.2ZM79.4 50.2L80.3 53.2L80.3 138.2L79.4 141.2L78.4 138.2L78.4 53.2ZM82.9 54.9L83.8 57.9L83.8 136.6L82.9 139.6L81.9 136.6L81.9 57.9ZM86.4 59.6L87.3 62.6L87.3 134.5L86.4 137.5L85.4 134.5L85.4 62.6ZM89.8 64.1L90.8 67.1L90.8 132.4L89.8 135.4L88.9 132.4L88.9 67.1ZM93.3 68.5L94.3 71.5L94.3 128.6L93.3 131.6L92.4 128.6L92.4 71.5ZM96.8 73.1L97.7 76.1L97.7 124.8L96.8 127.8L95.8 124.8L95.8 76.1ZM100.3 77.9L101.2 80.9L101.2 121.0L100.3 124.0L99.3 121.0L99.3 80.9ZM103.7 82.7L104.7 85.7L104.7 119.6L103.7 122.6L102.8 119.6L102.8 85.7ZM107.1 86.2L108.1 89.2L108.1 118.1L107.1 121.1L106.2 118.1L106.2 89.2ZM110.4 87.6L111.4 90.6L111.4 117.7L110.4 120.7L109.5 117.7L109.5 90.6ZM113.6 87.7L114.6 90.7L114.6 117.7L113.6 120.7L112.7 117.7L112.7 90.7ZM116.7 87.9L117.6 90.9L117.6 117.8L116.7 120.8L115.7 117.8L115.7 90.9ZM119.6 88.0L120.6 91.0L120.6 117.8L119.6 120.8L118.7 117.8L118.7 91.0ZM122.5 88.2L123.4 91.2L123.4 117.8L122.5 120.8L121.5 117.8L121.5 91.2ZM125.2 88.3L126.2 91.3L126.2 117.8L125.2 120.8L124.3 117.8L124.3 91.3ZM128.0 88.4L128.9 91.4L128.9 117.8L128.0 120.8L127.0 117.8L127.0 91.4ZM130.7 88.6L131.6 91.6L131.6 117.8L130.7 120.8L129.7 117.8L129.7 91.6ZM133.3 88.7L134.3 91.7L134.3 117.8L133.3 120.8L132.4 117.8L132.4 91.7ZM136.0 88.8L136.9 91.8L136.9 117.8L136.0 120.8L135.0 117.8L135.0 91.8ZM138.6 88.9L139.6 91.9L139.6 117.8L138.6 120.8L137.7 117.8L137.7 91.9ZM141.2 89.0L142.2 92.0L142.2 117.8L141.2 120.8L140.3 117.8L140.3 92.0ZM143.8 89.1L144.7 92.1L144.7 117.8L143.8 120.8L142.8 117.8L142.8 92.1ZM146.3 89.2L147.3 92.2L147.3 117.8L146.3 120.8L145.4 117.8L145.4 92.2ZM148.8 89.3L149.8 92.3L149.8 117.8L148.8 120.8L147.9 117.8L147.9 92.3ZM151.4 89.4L152.3 92.4L152.3 117.8L151.4 120.8L150.4 117.8L150.4 92.4ZM153.9 89.5L154.8 92.5L154.8 117.8L153.9 120.8L152.9 117.8L152.9 92.5ZM156.4 89.5L157.3 92.5L157.3 117.8L156.4 120.8L155.4 117.8L155.4 92.5ZM158.9 89.6L159.8 92.6L159.8 117.8L158.9 120.8L157.9 117.8L157.9 92.6ZM161.4 89.7L162.3 92.7L162.3 117.8L161.4 120.8L160.4 117.8L160.4 92.7ZM163.9 89.8L164.9 92.8L164.9 117.8L163.9 120.8L163.0 117.8L163.0 92.8ZM166.4 89.9L167.4 92.9L167.4 117.8L166.4 120.8L165.5 117.8L165.5 92.9ZM168.9 90.0L169.9 93.0L169.9 117.8L168.9 120.8L168.0 117.8L168.0 93.0ZM171.4 90.1L172.4 93.1L172.4 117.8L171.4 120.8L170.5 117.8L170.5 93.1ZM173.9 90.1L174.9 93.1L174.9 117.8L173.9 120.8L173.0 117.8L173.0 93.1ZM176.5 90.2L177.4 93.2L177.4 117.8L176.5 120.8L175.5 117.8L175.5 93.2ZM179.0 90.2L179.9 93.2L179.9 117.8L179.0 120.8L178.0 117.8L178.0 93.2ZM181.5 90.2L182.4 93.2L182.4 117.8L181.5 120.8L180.5 117.8L180.5 93.2ZM184.0 90.2L184.9 93.2L184.9 117.8L184.0 120.8L183.0 117.8L183.0 93.2ZM186.5 90.2L187.4 93.2L187.4 117.8L186.5 120.8L185.5 117.8L185.5 93.2ZM189.0 90.2L190.0 93.2L190.0 117.8L189.0 120.8L188.1 117.8L188.1 93.2ZM191.5 90.3L192.5 93.3L192.5 117.8L191.5 120.8L190.6 117.8L190.6 93.3ZM194.0 90.3L195.0 93.3L195.0 117.8L194.0 120.8L193.1 117.8L193.1 93.3ZM196.5 90.3L197.5 93.3L197.5 117.8L196.5 120.8L195.6 117.8L195.6 93.3ZM199.1 90.3L200.0 93.3L200.0 117.8L199.1 120.8L198.1 117.8L198.1 93.3ZM201.6 90.3L202.5 93.3L202.5 117.8L201.6 120.8L200.6 117.8L200.6 93.3ZM204.1 90.3L205.0 93.3L205.0 117.8L204.1 120.8L203.1 117.8L203.1 93.3ZM206.6 90.4L207.5 93.4L207.5 117.8L206.6 120.8L205.6 117.8L205.6 93.4ZM209.1 90.4L210.0 93.4L210.0 117.8L209.1 120.8L208.1 117.8L208.1 93.4ZM211.6 90.4L212.6 93.4L212.6 117.8L211.6 120.8L210.7 117.8L210.7 93.4ZM214.1 90.4L215.1 93.4L215.1 117.8L214.1 120.8L213.2 117.8L213.2 93.4ZM216.6 90.4L217.6 93.4L217.6 117.8L216.6 120.8L215.7 117.8L215.7 93.4ZM219.1 90.4L220.1 93.4L220.1 117.8L219.1 120.8L218.2 117.8L218.2 93.4ZM221.6 90.5L222.6 93.5L222.6 117.8L221.6 120.8L220.7 117.8L220.7 93.5ZM224.2 90.5L225.1 93.5L225.1 117.8L224.2 120.8L223.2 117.8L223.2 93.5ZM226.7 90.5L227.6 93.5L227.6 117.8L226.7 120.8L225.7 117.8L225.7 93.5ZM229.2 90.5L230.1 93.5L230.1 117.8L229.2 120.8L228.2 117.8L228.2 93.5ZM231.7 90.5L232.6 93.5L232.6 117.8L231.7 120.8L230.7 117.8L230.7 93.5ZM234.2 90.5L235.2 93.5L235.2 117.8L234.2 120.8L233.3 117.8L233.3 93.5Z"/>
<polygon points="128.3,117.7 131.1,118.9 133.9,119.5 136.6,120.2 139.4,120.8 142.2,121.4 144.9,122.1 147.7,122.7 150.5,123.3 153.3,123.5 156.0,123.8 158.8,124.0 161.6,124.2 164.3,124.4 167.1,124.6 169.9,124.9 172.6,125.1 175.4,125.2 178.2,125.2 180.9,125.1 183.7,125.1 186.5,125.1 189.2,125.1 192.0,125.1 194.8,125.1 197.5,125.1 200.3,125.1 203.1,125.1 205.8,125.1 208.6,125.1 211.4,125.1 214.2,125.1 216.9,125.1 219.7,125.1 222.5,125.1 225.2,125.1 228.0,125.1 230.8,125.1 233.5,125.1 236.3,125.1 236.3,132.5 233.5,132.5 230.8,132.5 228.0,132.5 225.2,132.5 222.5,132.5 219.7,132.5 216.9,132.5 214.2,132.5 211.4,132.5 208.6,132.5 205.8,132.5 203.1,132.5 200.3,132.5 197.5,132.5 194.8,132.5 192.0,132.5 189.2,132.5 186.5,132.5 183.7,132.6 180.9,132.7 178.2,132.8 175.4,132.9 172.6,133.0 169.9,133.1 167.1,133.2 164.3,133.3 161.6,133.5 158.8,133.7 156.0,133.9 153.3,134.1 150.5,134.3 147.7,134.5 144.9,134.7 142.2,134.9 139.4,135.0 136.6,135.2 133.9,135.4 131.1,135.5 128.3,135.9" fill="url(#rg)" fill-opacity="1.0"/>
<polygon points="113.3,94.4 116.4,94.3 119.6,94.1 122.7,94.0 125.9,93.8 129.0,93.7 132.2,93.5 135.4,93.3 138.5,93.2 141.7,93.0 144.8,92.9 148.0,92.7 151.1,92.6 154.3,92.5 157.4,92.4 160.6,92.3 163.7,92.2 166.9,92.1 170.1,92.0 173.2,91.9 176.4,91.8 179.5,91.8 182.7,91.8 185.8,91.8 189.0,91.8 192.1,91.8 195.3,91.8 198.4,91.8 201.6,91.8 204.8,91.8 207.9,91.8 211.1,91.8 214.2,91.8 217.4,91.8 220.5,91.8 223.7,91.8 226.8,91.8 230.0,91.8 233.1,91.8 236.3,91.8 236.3,118.5 233.1,118.5 230.0,118.5 226.8,118.5 223.7,118.5 220.5,118.5 217.4,118.5 214.2,118.5 211.1,118.5 207.9,118.5 204.8,118.5 201.6,118.5 198.4,118.5 195.3,118.5 192.1,118.5 189.0,118.5 185.8,118.5 182.7,118.5 179.5,118.5 176.4,118.5 173.2,118.5 170.1,118.5 166.9,118.5 163.7,118.5 160.6,118.5 157.4,118.5 154.3,118.5 151.1,118.5 148.0,118.5 144.8,118.1 141.7,117.7 138.5,117.4 135.4,117.0 132.2,116.7 129.0,116.1 125.9,114.6 122.7,113.1 119.6,111.6 116.4,110.1 113.3,108.6" fill="#2f2cff" fill-opacity="1.0"/></g></g>
<g stroke="#000" fill="none">
<line x1="48" y1="11" x2="48" y2="186.5" stroke-width="2"/>
<line x1="47" y1="185.5" x2="237.3" y2="185.5" stroke-width="2"/>
<line x1="47" y1="12.1" x2="58.3" y2="12.1" stroke-width="1.8"/>
<line x1="47" y1="55.3" x2="58.3" y2="55.3" stroke-width="1.8"/>
<line x1="47" y1="98.3" x2="58.3" y2="98.3" stroke-width="1.8"/>
<line x1="47" y1="142.0" x2="58.3" y2="142.0" stroke-width="1.8"/>
<line x1="110.77" y1="176" x2="110.77" y2="186" stroke-width="1.6"/>
<line x1="173.53" y1="176" x2="173.53" y2="186" stroke-width="1.6"/>
<line x1="236.30" y1="176" x2="236.30" y2="186" stroke-width="1.6"/>
<line x1="5.8" y1="141.6" x2="15.4" y2="141.6" stroke-width="1"/>
<line x1="6" y1="184.9" x2="15.6" y2="184.9" stroke-width="1"/>
</g>
<g font-size="18" fill="#000">
<text transform="translate(38.9,16.9) scale(0.92,1)" text-anchor="end">1.0</text>
<text transform="translate(38.9,60.0) scale(0.92,1)" text-anchor="end">0.5</text>
<text transform="translate(38.9,103.3) scale(0.92,1)" text-anchor="end">0</text>
<text transform="translate(38.9,146.9) scale(0.92,1)" text-anchor="end">0.5</text>
<text transform="translate(38.9,190.3) scale(0.92,1)" text-anchor="end">1.0</text>
<text transform="translate(48.50,208.4) scale(0.89,1)" text-anchor="middle">0</text>
<text transform="translate(109.97,208.4) scale(0.89,1)" text-anchor="middle">500</text>
<text transform="translate(172.73,208.4) scale(0.89,1)" text-anchor="middle">1000</text>
<text transform="translate(235.50,208.4) scale(0.89,1)" text-anchor="middle">1500</text>
<text x="201.8" y="216.8" font-style="italic" font-size="17">t</text>
<text x="-0.6" y="37.6" font-style="italic" font-size="17">m<tspan font-size="11.5" dx="0.8" dy="2.8">i</tspan></text>
</g>
</g>
<g transform="translate(0,227.2)">
<g clip-path="url(#cp)"><g filter="url(#bl)"><polygon points="49.0,13.0 61.0,13.0 67.0,30.0 68.0,56.0 65.0,50.0 58.0,37.0 49.0,21.0" fill="#c8ccff" fill-opacity="0.85"/>
<polygon points="60.0,13.0 66.0,13.0 68.0,56.0 65.0,50.0 62.0,44.0" fill="#c0e0ee" fill-opacity="0.6"/>
<polygon points="49.0,44.0 55.0,62.0 62.0,80.0 66.0,100.0 60.0,100.0 58.0,80.0 49.0,76.0" fill="#665cb0" fill-opacity="1.0"/>
<polygon points="49.0,74.0 58.0,78.0 61.0,100.0 60.0,140.0 49.0,140.0" fill="#8e7e26" fill-opacity="1.0"/>
<polygon points="49.0,138.0 59.0,138.0 59.0,150.0 49.0,150.0" fill="#82b450" fill-opacity="1.0"/>
<polygon points="49.0,78.0 50.5,78.0 50.5,140.0 49.0,140.0" fill="#88b030" fill-opacity="1.0"/>
<polygon points="49.0,149.0 58.0,149.0 59.0,184.0 49.0,184.0" fill="#ee9a92" fill-opacity="1.0"/>
<polygon points="58.0,98.0 61.0,98.0 66.0,100.0 70.0,110.0 70.0,184.0 59.0,184.0 60.0,140.0" fill="#c4c690" fill-opacity="0.9"/>
<polygon points="60.1,13.2 76.9,13.2 76.9,46.7 68.1,42.4 60.1,34.7" fill="#d8c8c0" fill-opacity="0.7"/>
<polygon points="61.8,13.6 63.3,13.6 64.8,13.6 66.3,13.6 67.9,13.6 69.4,13.6 70.9,13.6 72.4,13.6 73.9,13.6 75.4,13.6 76.9,13.6 78.4,13.6 79.9,13.6 81.5,13.6 83.0,13.6 84.5,13.6 86.0,13.6 87.5,13.6 89.0,13.6 90.5,13.6 92.0,13.6 93.5,13.6 95.1,13.6 96.6,13.6 98.1,13.6 99.6,13.6 101.1,13.6 102.6,13.6 104.1,13.6 105.6,13.6 107.2,13.6 108.7,13.6 110.2,13.6 111.7,13.7 113.2,13.9 114.7,14.1 116.2,14.2 117.7,14.4 119.2,14.6 120.8,14.8 122.3,15.0 123.8,15.2 125.3,15.3 126.8,15.5 128.3,15.7 129.8,15.9 131.3,16.1 132.8,16.2 134.4,16.4 135.9,16.6 135.9,22.1 134.4,22.3 132.8,22.5 131.3,22.7 129.8,22.9 128.3,23.1 126.8,23.3 125.3,23.4 123.8,23.7 122.3,23.9 120.8,24.2 119.2,24.5 117.7,24.7 116.2,25.0 114.7,25.3 113.2,26.0 111.7,26.6 110.2,27.3 108.7,27.9 107.2,28.3 105.6,28.7 104.1,29.2 102.6,29.6 101.1,30.0 99.6,30.6 98.1,31.5 96.6,32.4 95.1,33.4 93.5,34.3 92.0,35.2 90.5,36.2 89.0,37.2 87.5,38.2 86.0,39.2 84.5,40.5 83.0,42.2 81.5,44.0 79.9,45.8 78.4,47.6 76.9,49.3 75.4,50.3 73.9,51.3 72.4,52.2 70.9,53.2 69.4,54.2 67.9,55.2 66.3,56.1 64.8,57.1 63.3,58.4 61.8,59.6" fill="#b8eeb8" fill-opacity="0.8"/>
<path fill="#44bb44" fill-opacity="0.55" d="M56.1 95.2L56.7 98.2L56.7 181.3L56.1 184.3L55.4 181.3L55.4 98.2ZM59.0 57.7L59.6 60.7L59.6 181.3L59.0 184.3L58.3 181.3L58.3 60.7ZM62.1 13.6L62.7 16.6L62.7 181.3L62.1 184.3L61.4 181.3L61.4 16.6ZM65.4 13.6L66.0 16.6L66.0 181.3L65.4 184.3L64.7 181.3L64.7 16.6ZM68.9 13.6L69.5 16.6L69.5 164.8L68.9 167.8L68.2 164.8L68.2 16.6ZM72.4 13.6L73.0 16.6L73.0 92.7L72.4 95.7L71.7 92.7L71.7 16.6ZM75.9 13.6L76.5 16.6L76.5 55.3L75.9 58.3L75.2 55.3L75.2 16.6ZM79.4 13.6L80.0 16.6L80.0 43.5L79.4 46.5L78.7 43.5L78.7 16.6ZM82.9 13.6L83.5 16.6L83.5 39.3L82.9 42.3L82.2 39.3L82.2 16.6ZM86.4 13.6L87.0 16.6L87.0 35.9L86.4 38.9L85.7 35.9L85.7 16.6ZM89.8 13.6L90.5 16.6L90.5 33.7L89.8 36.7L89.2 33.7L89.2 16.6ZM93.3 13.6L94.0 16.6L94.0 31.4L93.3 34.4L92.7 31.4L92.7 16.6ZM96.8 13.6L97.4 16.6L97.4 29.3L96.8 32.3L96.1 29.3L96.1 16.6ZM100.3 13.6L100.9 16.6L100.9 27.3L100.3 30.3L99.6 27.3L99.6 16.6ZM103.7 13.6L104.4 16.6L104.4 26.3L103.7 29.3L103.1 26.3L103.1 16.6ZM107.1 13.6L107.8 16.6L107.8 25.3L107.1 28.3L106.5 25.3L106.5 16.6ZM110.4 13.6L111.1 16.6L111.1 24.2L110.4 27.2L109.8 24.2L109.8 16.6ZM113.6 13.9L114.3 16.9L114.3 22.8L113.6 25.8L113.0 22.8L113.0 16.9ZM116.7 14.3L117.3 17.3L117.3 21.9L116.7 24.9L116.0 21.9L116.0 17.3ZM119.6 14.7L120.3 17.7L120.3 21.4L119.6 24.4L119.0 21.4L119.0 17.7ZM122.5 15.0L123.1 18.0L123.1 20.9L122.5 23.9L121.8 20.9L121.8 18.0ZM125.2 15.3L125.9 18.3L125.9 20.4L125.2 23.4L124.6 20.4L124.6 18.3ZM128.0 15.7L128.6 18.7L128.6 19.5L128.0 22.5L127.3 19.5L127.3 18.7ZM130.7 16.0L131.3 18.8L131.3 18.8L130.7 21.7L130.0 18.8L130.0 18.8ZM133.3 16.3L134.0 18.6L134.0 18.6L133.3 20.8L132.7 18.6L132.7 18.6ZM136.0 16.6L136.6 18.3L136.6 18.3L136.0 20.0L135.3 18.3L135.3 18.3ZM138.6 16.9L139.3 18.3L139.3 18.3L138.6 19.7L138.0 18.3L138.0 18.3ZM141.2 17.1L141.9 18.2L141.9 18.2L141.2 19.3L140.6 18.2L140.6 18.2ZM143.8 17.3L144.4 18.1L144.4 18.1L143.8 19.0L143.1 18.1L143.1 18.1ZM146.3 17.3L147.0 18.1L147.0 18.1L146.3 19.0L145.7 18.1L145.7 18.1ZM148.8 17.3L149.5 18.1L149.5 18.1L148.8 19.0L148.2 18.1L148.2 18.1ZM151.4 17.3L152.0 18.1L152.0 18.1L151.4 19.0L150.7 18.1L150.7 18.1ZM153.9 17.3L154.5 18.1L154.5 18.1L153.9 19.0L153.2 18.1L153.2 18.1ZM156.4 17.3L157.0 18.1L157.0 18.1L156.4 19.0L155.7 18.1L155.7 18.1ZM158.9 17.3L159.5 18.1L159.5 18.1L158.9 19.0L158.2 18.1L158.2 18.1ZM161.4 17.3L162.0 18.1L162.0 18.1L161.4 19.0L160.7 18.1L160.7 18.1ZM163.9 17.3L164.6 18.1L164.6 18.1L163.9 19.0L163.3 18.1L163.3 18.1ZM166.4 17.3L167.1 18.1L167.1 18.1L166.4 18.9L165.8 18.1L165.8 18.1ZM168.9 17.3L169.6 18.1L169.6 18.1L168.9 18.9L168.3 18.1L168.3 18.1ZM171.4 17.3L172.1 18.1L172.1 18.1L171.4 18.9L170.8 18.1L170.8 18.1ZM173.9 17.3L174.6 18.1L174.6 18.1L173.9 18.9L173.3 18.1L173.3 18.1ZM176.5 17.3L177.1 18.1L177.1 18.1L176.5 18.9L175.8 18.1L175.8 18.1ZM179.0 17.4L179.6 18.1L179.6 18.1L179.0 18.9L178.3 18.1L178.3 18.1ZM181.5 17.4L182.1 18.1L182.1 18.1L181.5 18.9L180.8 18.1L180.8 18.1ZM184.0 17.4L184.6 18.1L184.6 18.1L184.0 18.9L183.3 18.1L183.3 18.1ZM186.5 17.4L187.1 18.1L187.1 18.1L186.5 18.9L185.8 18.1L185.8 18.1ZM189.0 17.4L189.7 18.1L189.7 18.1L189.0 18.9L188.4 18.1L188.4 18.1ZM191.5 17.4L192.2 18.1L192.2 18.1L191.5 18.9L190.9 18.1L190.9 18.1ZM194.0 17.4L194.7 18.1L194.7 18.1L194.0 18.9L193.4 18.1L193.4 18.1ZM196.5 17.4L197.2 18.1L197.2 18.1L196.5 18.9L195.9 18.1L195.9 18.1ZM199.1 17.4L199.7 18.1L199.7 18.1L199.1 18.9L198.4 18.1L198.4 18.1ZM201.6 17.4L202.2 18.1L202.2 18.1L201.6 18.8L200.9 18.1L200.9 18.1ZM204.1 17.4L204.7 18.1L204.7 18.1L204.1 18.8L203.4 18.1L203.4 18.1ZM206.6 17.4L207.2 18.1L207.2 18.1L206.6 18.8L205.9 18.1L205.9 18.1ZM209.1 17.4L209.7 18.1L209.7 18.1L209.1 18.8L208.4 18.1L208.4 18.1ZM211.6 17.4L212.3 18.1L212.3 18.1L211.6 18.8L211.0 18.1L211.0 18.1ZM214.1 17.4L214.8 18.1L214.8 18.1L214.1 18.8L213.5 18.1L213.5 18.1ZM216.6 17.4L217.3 18.1L217.3 18.1L216.6 18.8L216.0 18.1L216.0 18.1ZM219.1 17.4L219.8 18.1L219.8 18.1L219.1 18.8L218.5 18.1L218.5 18.1ZM221.6 17.4L222.3 18.1L222.3 18.1L221.6 18.8L221.0 18.1L221.0 18.1ZM224.2 17.4L224.8 18.1L224.8 18.1L224.2 18.8L223.5 18.1L223.5 18.1ZM226.7 17.4L227.3 18.1L227.3 18.1L226.7 18.8L226.0 18.1L226.0 18.1ZM229.2 17.4L229.8 18.1L229.8 18.1L229.2 18.8L228.5 18.1L228.5 18.1ZM231.7 17.5L232.3 18.1L232.3 18.1L231.7 18.8L231.0 18.1L231.0 18.1ZM234.2 17.5L234.9 18.1L234.9 18.1L234.2 18.8L233.6 18.1L233.6 18.1Z"/>
<path fill="#e00008" fill-opacity="0.6" d="M53.3 112.3L53.9 115.3L53.9 181.3L53.3 184.3L52.6 181.3L52.6 115.3ZM56.1 73.9L56.7 76.9L56.7 181.3L56.1 184.3L55.4 181.3L55.4 76.9ZM59.0 33.7L59.6 36.7L59.6 181.3L59.0 184.3L58.3 181.3L58.3 36.7ZM62.1 12.3L62.7 15.3L62.7 180.7L62.1 183.7L61.4 180.7L61.4 15.3ZM65.4 12.3L66.0 15.3L66.0 179.3L65.4 182.3L64.7 179.3L64.7 15.3ZM68.9 12.3L69.5 15.3L69.5 178.2L68.9 181.2L68.2 178.2L68.2 15.3ZM72.4 12.9L73.0 15.9L73.0 177.2L72.4 180.2L71.7 177.2L71.7 15.9ZM75.9 16.6L76.5 19.6L76.5 175.3L75.9 178.3L75.2 175.3L75.2 19.6ZM79.4 20.3L80.0 23.3L80.0 173.1L79.4 176.1L78.7 173.1L78.7 23.3ZM82.9 24.1L83.5 27.1L83.5 170.2L82.9 173.2L82.2 170.2L82.2 27.1ZM86.4 28.0L87.0 31.0L87.0 167.3L86.4 170.3L85.7 167.3L85.7 31.0ZM89.8 31.9L90.5 34.9L90.5 164.3L89.8 167.3L89.2 164.3L89.2 34.9ZM93.3 36.1L94.0 39.1L94.0 160.4L93.3 163.4L92.7 160.4L92.7 39.1ZM96.8 40.3L97.4 43.3L97.4 156.5L96.8 159.5L96.1 156.5L96.1 43.3ZM100.3 44.4L100.9 47.4L100.9 152.5L100.3 155.5L99.6 152.5L99.6 47.4ZM103.7 47.3L104.4 50.3L104.4 147.3L103.7 150.3L103.1 147.3L103.1 50.3ZM107.1 50.2L107.8 53.2L107.8 127.3L107.1 130.3L106.5 127.3L106.5 53.2Z"/>
<path fill="#e00008" fill-opacity="0.75" d="M112.0 53.5L112.7 56.5L112.7 89.5L112.0 92.5L111.4 89.5L111.4 56.5ZM115.2 55.3L115.8 58.3L115.8 85.8L115.2 88.8L114.5 85.8L114.5 58.3ZM118.2 56.2L118.8 59.2L118.8 83.9L118.2 86.9L117.5 83.9L117.5 59.2ZM121.1 57.1L121.7 60.1L121.7 82.0L121.1 85.0L120.4 82.0L120.4 60.1ZM123.9 57.9L124.5 60.9L124.5 80.2L123.9 83.2L123.2 80.2L123.2 60.9ZM126.6 58.7L127.3 61.7L127.3 78.5L126.6 81.5L126.0 78.5L126.0 61.7ZM129.3 59.5L130.0 62.5L130.0 76.8L129.3 79.8L128.7 76.8L128.7 62.5ZM132.0 59.9L132.7 62.9L132.7 75.9L132.0 78.9L131.4 75.9L131.4 62.9ZM134.7 60.2L135.3 63.2L135.3 75.4L134.7 78.4L134.0 75.4L134.0 63.2ZM137.3 60.6L138.0 63.6L138.0 74.8L137.3 77.8L136.7 74.8L136.7 63.6ZM139.9 60.9L140.6 63.9L140.6 74.3L139.9 77.3L139.3 74.3L139.3 63.9ZM142.5 61.2L143.1 64.2L143.1 73.7L142.5 76.7L141.8 73.7L141.8 64.2ZM145.1 61.5L145.7 64.5L145.7 73.2L145.1 76.2L144.4 73.2L144.4 64.5ZM147.6 61.9L148.2 64.9L148.2 72.6L147.6 75.6L146.9 72.6L146.9 64.9ZM150.1 62.2L150.7 65.2L150.7 72.1L150.1 75.1L149.4 72.1L149.4 65.2ZM152.6 62.5L153.3 65.5L153.3 71.9L152.6 74.9L152.0 71.9L152.0 65.5ZM155.1 62.7L155.8 65.7L155.8 71.7L155.1 74.7L154.5 71.7L154.5 65.7ZM157.6 63.0L158.3 66.0L158.3 71.5L157.6 74.5L157.0 71.5L157.0 66.0ZM160.1 63.3L160.8 66.3L160.8 71.3L160.1 74.3L159.5 71.3L159.5 66.3ZM162.6 63.6L163.3 66.6L163.3 71.2L162.6 74.2L162.0 71.2L162.0 66.6ZM165.2 63.8L165.8 66.8L165.8 71.0L165.2 74.0L164.5 71.0L164.5 66.8ZM167.7 64.1L168.3 67.1L168.3 70.8L167.7 73.8L167.0 70.8L167.0 67.1ZM170.2 64.4L170.8 67.4L170.8 70.6L170.2 73.6L169.5 70.6L169.5 67.4ZM172.7 64.7L173.3 67.7L173.3 70.4L172.7 73.4L172.0 70.4L172.0 67.7ZM175.2 64.8L175.9 67.8L175.9 70.3L175.2 73.3L174.6 70.3L174.6 67.8ZM177.7 64.8L178.4 67.8L178.4 70.3L177.7 73.3L177.1 70.3L177.1 67.8ZM180.2 64.8L180.9 67.8L180.9 70.3L180.2 73.3L179.6 70.3L179.6 67.8ZM182.7 64.8L183.4 67.8L183.4 70.3L182.7 73.3L182.1 70.3L182.1 67.8ZM185.2 64.8L185.9 67.8L185.9 70.3L185.2 73.3L184.6 70.3L184.6 67.8ZM187.8 64.9L188.4 67.9L188.4 70.3L187.8 73.3L187.1 70.3L187.1 67.9ZM190.3 64.9L190.9 67.9L190.9 70.2L190.3 73.2L189.6 70.2L189.6 67.9ZM192.8 64.9L193.4 67.9L193.4 70.2L192.8 73.2L192.1 70.2L192.1 67.9ZM195.3 64.9L195.9 67.9L195.9 70.2L195.3 73.2L194.6 70.2L194.6 67.9ZM197.8 64.9L198.4 67.9L198.4 70.2L197.8 73.2L197.1 70.2L197.1 67.9ZM200.3 64.9L201.0 67.9L201.0 70.2L200.3 73.2L199.7 70.2L199.7 67.9ZM202.8 65.0L203.5 68.0L203.5 70.2L202.8 73.2L202.2 70.2L202.2 68.0ZM205.3 65.0L206.0 68.0L206.0 70.1L205.3 73.1L204.7 70.1L204.7 68.0ZM207.8 65.0L208.5 68.0L208.5 70.1L207.8 73.1L207.2 70.1L207.2 68.0ZM210.3 65.0L211.0 68.0L211.0 70.1L210.3 73.1L209.7 70.1L209.7 68.0ZM212.9 65.0L213.5 68.0L213.5 70.1L212.9 73.1L212.2 70.1L212.2 68.0ZM215.4 65.0L216.0 68.0L216.0 70.1L215.4 73.1L214.7 70.1L214.7 68.0ZM217.9 65.1L218.5 68.1L218.5 70.1L217.9 73.1L217.2 70.1L217.2 68.1ZM220.4 65.1L221.0 68.1L221.0 70.0L220.4 73.0L219.7 70.0L219.7 68.1ZM222.9 65.1L223.6 68.1L223.6 70.0L222.9 73.0L222.3 70.0L222.3 68.1ZM225.4 65.1L226.1 68.1L226.1 70.0L225.4 73.0L224.8 70.0L224.8 68.1ZM227.9 65.1L228.6 68.1L228.6 70.0L227.9 73.0L227.3 70.0L227.3 68.1ZM230.4 65.1L231.1 68.1L231.1 70.0L230.4 73.0L229.8 70.0L229.8 68.1ZM232.9 65.2L233.6 68.2L233.6 70.0L232.9 73.0L232.3 70.0L232.3 68.2ZM235.5 65.2L236.1 68.2L236.1 69.9L235.5 72.9L234.8 69.9L234.8 68.2Z"/>
<path fill="none" stroke="url(#gg)" stroke-width="1.35" stroke-linejoin="round" d="M108.3 26.9 108.5 24.1 108.8 20.5 109.1 16.9 109.4 14.4 109.6 13.6 109.9 14.6 110.2 17.2 110.4 20.6 110.7 23.9 111.0 26.2 111.3 26.8 111.5 25.7 111.8 23.1 112.1 19.8 112.3 16.7 112.6 14.5 112.8 13.8 113.1 14.8 113.4 17.1 113.6 20.1 113.9 23.0 114.2 24.9 114.4 25.5 114.7 24.5 114.9 22.2 115.2 19.4 115.4 16.6 115.7 14.8 115.9 14.2 116.2 15.1 116.5 17.2 116.7 19.9 117.0 22.5 117.2 24.3 117.5 24.8 117.7 23.9 117.9 21.9 118.2 19.3 118.4 16.8 118.7 15.1 118.9 14.6 119.2 15.4 119.4 17.4 119.7 19.9 119.9 22.2 120.1 23.8 120.4 24.3 120.6 23.4 120.9 21.5 121.1 19.2 121.3 16.9 121.6 15.3 121.8 14.9 122.0 15.7 122.3 17.5 122.5 19.8 122.7 21.9 123.0 23.4 123.2 23.8 123.4 23.0 123.7 21.3 123.9 19.1 124.1 17.0 124.4 15.6 124.6 15.3 124.8 16.0 125.0 17.6 125.3 19.7 125.5 21.6 125.7 22.9 126.0 23.1 126.2 22.4 126.4 20.9 126.6 18.9 126.9 17.1 127.1 15.9 127.3 15.6 127.5 16.2 127.8 17.6 128.0 19.4 128.2 21.0 128.5 22.1 128.7 22.3 128.9 21.7 129.1 20.3 129.4 18.7 129.6 17.2 129.8 16.2 130.0 15.9 130.3 16.5 130.5 17.6 130.7 19.1 130.9 20.4 131.2 21.3 131.4 21.4 131.6 20.9 131.8 19.8 132.0 18.5 132.3 17.2 132.5 16.4 132.7 16.2 132.9 16.7 133.2 17.6 133.4 18.8 133.6 19.8 133.8 20.5 134.0 20.6 134.3 20.2 134.5 19.3 134.7 18.3 134.9 17.3 135.1 16.7 135.4 16.5 135.6 16.9 135.8 17.6 136.0 18.5 136.2 19.3 136.5 19.8 136.7 19.9 136.9 19.6 137.1 18.9 137.3 18.1 137.6 17.4 137.8 16.9 138.0 16.8 138.2 17.1 138.4 17.7 138.7 18.4 138.9 19.1 139.1 19.5 139.3 19.6 139.5 19.3 139.7 18.8 140.0 18.1 140.2 17.5 140.4 17.1 140.6 17.0 140.8 17.3 141.0 17.7 141.2 18.3 141.5 18.8 141.7 19.2 141.9 19.2 142.1 19.0 142.3 18.6 142.5 18.1 142.7 17.6 143.0 17.3 143.2 17.3 143.4 17.4 143.6 17.8 143.8 18.2 144.0 18.6 144.2 18.9 144.5 19.0 144.7 18.8 144.9 18.5 145.1 18.1 145.3 17.6 145.5 17.4 145.7 17.3 145.9 17.5 146.2 17.8 146.4 18.2 146.6 18.6 146.8 18.9 147.0 19.0 147.2 18.8 147.4 18.5 147.6 18.1 147.8 17.6 148.0 17.4 148.3 17.3 148.5 17.5 148.7 17.8 148.9 18.2 149.1 18.6 149.3 18.9 149.5 19.0 149.7 18.8 149.9 18.5 150.1 18.1 150.3 17.6 150.6 17.4 150.8 17.3 151.0 17.5 151.2 17.8 151.4 18.2 151.6 18.6 151.8 18.9 152.0 19.0 152.2 18.8 152.4 18.5 152.6 18.1 152.9 17.7 153.1 17.4 153.3 17.3 153.5 17.5 153.7 17.8 153.9 18.2 154.1 18.6 154.3 18.9 154.5 19.0 154.7 18.8 154.9 18.5 155.2 18.1 155.4 17.7 155.6 17.4 155.8 17.3 156.0 17.5 156.2 17.8 156.4 18.2 156.6 18.6 156.8 18.9 157.0 19.0 157.3 18.8 157.5 18.5 157.7 18.1 157.9 17.7 158.1 17.4 158.3 17.3 158.5 17.5 158.7 17.8 158.9 18.2 159.1 18.6 159.3 18.9 159.6 19.0 159.8 18.8 160.0 18.5 160.2 18.1 160.4 17.7 160.6 17.4 160.8 17.3 161.0 17.5 161.2 17.8 161.4 18.2 161.6 18.6 161.9 18.9 162.1 19.0 162.3 18.8 162.5 18.5 162.7 18.1 162.9 17.7 163.1 17.4 163.3 17.3 163.5 17.5 163.7 17.8 163.9 18.2 164.2 18.6 164.4 18.9 164.6 18.9 164.8 18.8 165.0 18.5 165.2 18.1 165.4 17.7 165.6 17.4 165.8 17.3 166.0 17.5 166.2 17.8 166.5 18.2 166.7 18.6 166.9 18.9 167.1 18.9 167.3 18.8 167.5 18.5 167.7 18.1 167.9 17.7 168.1 17.4 168.3 17.3 168.5 17.5 168.8 17.8 169.0 18.2 169.2 18.6 169.4 18.9 169.6 18.9 169.8 18.8 170.0 18.5 170.2 18.1 170.4 17.7 170.6 17.4 170.8 17.3 171.1 17.5 171.3 17.8 171.5 18.2 171.7 18.6 171.9 18.9 172.1 18.9 172.3 18.8 172.5 18.5 172.7 18.1 172.9 17.7 173.2 17.4 173.4 17.3 173.6 17.5 173.8 17.8 174.0 18.2 174.2 18.6 174.4 18.9 174.6 18.9 174.8 18.8 175.0 18.5 175.2 18.1 175.5 17.7 175.7 17.4 175.9 17.4 176.1 17.5 176.3 17.8 176.5 18.2 176.7 18.6 176.9 18.8 177.1 18.9 177.3 18.8 177.5 18.4 177.8 18.1 178.0 17.7 178.2 17.4 178.4 17.4 178.6 17.5 178.8 17.8 179.0 18.2 179.2 18.6 179.4 18.8 179.6 18.9 179.8 18.8 180.1 18.4 180.3 18.1 180.5 17.7 180.7 17.4 180.9 17.4 181.1 17.5 181.3 17.8 181.5 18.2 181.7 18.6 181.9 18.8 182.1 18.9 182.4 18.8 182.6 18.4 182.8 18.0 183.0 17.7 183.2 17.4 183.4 17.4 183.6 17.5 183.8 17.8 184.0 18.2 184.2 18.6 184.4 18.8 184.7 18.9 184.9 18.7 185.1 18.4 185.3 18.0 185.5 17.7 185.7 17.4 185.9 17.4 186.1 17.5 186.3 17.8 186.5 18.2 186.8 18.6 187.0 18.8 187.2 18.9 187.4 18.7 187.6 18.4 187.8 18.0 188.0 17.7 188.2 17.4 188.4 17.4 188.6 17.5 188.8 17.8 189.1 18.2 189.3 18.6 189.5 18.8 189.7 18.9 189.9 18.7 190.1 18.4 190.3 18.0 190.5 17.7 190.7 17.4 190.9 17.4 191.1 17.5 191.4 17.8 191.6 18.2 191.8 18.6 192.0 18.8 192.2 18.9 192.4 18.7 192.6 18.4 192.8 18.0 193.0 17.7 193.2 17.4 193.4 17.4 193.7 17.5 193.9 17.8 194.1 18.2 194.3 18.6 194.5 18.8 194.7 18.9 194.9 18.7 195.1 18.4 195.3 18.0 195.5 17.7 195.7 17.4 196.0 17.4 196.2 17.5 196.4 17.8 196.6 18.2 196.8 18.6 197.0 18.8 197.2 18.9 197.4 18.7 197.6 18.4 197.8 18.0 198.0 17.7 198.3 17.5 198.5 17.4 198.7 17.5 198.9 17.8 199.1 18.2 199.3 18.6 199.5 18.8 199.7 18.8 199.9 18.7 200.1 18.4 200.3 18.0 200.6 17.7 200.8 17.5 201.0 17.4 201.2 17.5 201.4 17.8 201.6 18.2 201.8 18.5 202.0 18.8 202.2 18.8 202.4 18.7 202.7 18.4 202.9 18.0 203.1 17.7 203.3 17.5 203.5 17.4 203.7 17.5 203.9 17.8 204.1 18.2 204.3 18.5 204.5 18.8 204.7 18.8 205.0 18.7 205.2 18.4 205.4 18.0 205.6 17.7 205.8 17.5 206.0 17.4 206.2 17.5 206.4 17.8 206.6 18.2 206.8 18.5 207.0 18.8 207.3 18.8 207.5 18.7 207.7 18.4 207.9 18.0 208.1 17.7 208.3 17.5 208.5 17.4 208.7 17.5 208.9 17.8 209.1 18.2 209.3 18.5 209.6 18.8 209.8 18.8 210.0 18.7 210.2 18.4 210.4 18.0 210.6 17.7 210.8 17.5 211.0 17.4 211.2 17.5 211.4 17.8 211.6 18.2 211.9 18.5 212.1 18.8 212.3 18.8 212.5 18.7 212.7 18.4 212.9 18.0 213.1 17.7 213.3 17.5 213.5 17.4 213.7 17.6 213.9 17.8 214.2 18.2 214.4 18.5 214.6 18.8 214.8 18.8 215.0 18.7 215.2 18.4 215.4 18.0 215.6 17.7 215.8 17.5 216.0 17.4 216.2 17.6 216.5 17.8 216.7 18.2 216.9 18.5 217.1 18.7 217.3 18.8 217.5 18.7 217.7 18.4 217.9 18.0 218.1 17.7 218.3 17.5 218.6 17.4 218.8 17.6 219.0 17.8 219.2 18.2 219.4 18.5 219.6 18.7 219.8 18.8 220.0 18.7 220.2 18.4 220.4 18.0 220.6 17.7 220.9 17.5 221.1 17.4 221.3 17.6 221.5 17.8 221.7 18.2 221.9 18.5 222.1 18.7 222.3 18.8 222.5 18.7 222.7 18.4 222.9 18.0 223.2 17.7 223.4 17.5 223.6 17.4 223.8 17.6 224.0 17.8 224.2 18.2 224.4 18.5 224.6 18.7 224.8 18.8 225.0 18.7 225.2 18.4 225.5 18.0 225.7 17.7 225.9 17.5 226.1 17.4 226.3 17.6 226.5 17.8 226.7 18.2 226.9 18.5 227.1 18.7 227.3 18.8 227.5 18.6 227.8 18.4 228.0 18.0 228.2 17.7 228.4 17.5 228.6 17.4 228.8 17.6 229.0 17.8 229.2 18.2 229.4 18.5 229.6 18.7 229.8 18.8 230.1 18.6 230.3 18.4 230.5 18.0 230.7 17.7 230.9 17.5 231.1 17.5 231.3 17.6 231.5 17.8 231.7 18.2 231.9 18.5 232.2 18.7 232.4 18.8 232.6 18.6 232.8 18.4 233.0 18.0 233.2 17.7 233.4 17.5 233.6 17.5 233.8 17.6 234.0 17.8 234.2 18.2 234.5 18.5 234.7 18.7 234.9 18.8 235.1 18.6 235.3 18.4 235.5 18.0 235.7 17.7 235.9 17.5 236.1 17.5 236.3 17.5"/>
<polygon points="49.0,21.0 58.0,37.0 65.0,50.0 77.0,63.0 93.0,84.0 109.0,80.0 109.0,106.0 93.0,109.0 77.0,101.0 62.0,82.0 55.0,65.0 49.0,47.0" fill="url(#bandg)"/>
<path fill="url(#bgc)" d="M68.9 42.8L69.8 45.8L69.8 127.7L68.9 130.7L67.9 127.7L67.9 45.8ZM72.4 44.5L73.3 47.5L73.3 137.0L72.4 140.0L71.4 137.0L71.4 47.5ZM75.9 46.2L76.8 49.2L76.8 137.6L75.9 140.6L74.9 137.6L74.9 49.2ZM79.4 50.2L80.3 53.2L80.3 138.2L79.4 141.2L78.4 138.2L78.4 53.2ZM82.9 54.9L83.8 57.9L83.8 136.6L82.9 139.6L81.9 136.6L81.9 57.9ZM86.4 59.6L87.3 62.6L87.3 134.5L86.4 137.5L85.4 134.5L85.4 62.6ZM89.8 64.1L90.8 67.1L90.8 132.4L89.8 135.4L88.9 132.4L88.9 67.1ZM93.3 68.5L94.3 71.5L94.3 128.0L93.3 131.0L92.4 128.0L92.4 71.5ZM96.8 72.4L97.7 75.4L97.7 123.4L96.8 126.4L95.8 123.4L95.8 75.4ZM100.3 75.7L101.2 78.7L101.2 118.8L100.3 121.8L99.3 118.8L99.3 78.7ZM103.7 76.7L104.7 79.7L104.7 113.6L103.7 116.6L102.8 113.6L102.8 79.7ZM107.1 76.5L108.1 79.5L108.1 108.4L107.1 111.4L106.2 108.4L106.2 79.5ZM110.4 74.7L111.4 77.7L111.4 106.4L110.4 109.4L109.5 106.4L109.5 77.7ZM113.6 74.8L114.6 77.8L114.6 106.1L113.6 109.1L112.7 106.1L112.7 77.8ZM116.7 75.0L117.6 78.0L117.6 105.7L116.7 108.7L115.7 105.7L115.7 78.0ZM119.6 75.1L120.6 78.1L120.6 105.4L119.6 108.4L118.7 105.4L118.7 78.1ZM122.5 75.3L123.4 78.3L123.4 105.0L122.5 108.0L121.5 105.0L121.5 78.3ZM125.2 75.4L126.2 78.4L126.2 104.9L125.2 107.9L124.3 104.9L124.3 78.4ZM128.0 75.5L128.9 78.5L128.9 104.9L128.0 107.9L127.0 104.9L127.0 78.5ZM130.7 75.7L131.6 78.7L131.6 104.9L130.7 107.9L129.7 104.9L129.7 78.7ZM133.3 75.8L134.3 78.8L134.3 104.9L133.3 107.9L132.4 104.9L132.4 78.8ZM136.0 75.9L136.9 78.9L136.9 104.9L136.0 107.9L135.0 104.9L135.0 78.9ZM138.6 76.0L139.6 79.0L139.6 104.9L138.6 107.9L137.7 104.9L137.7 79.0ZM141.2 76.1L142.2 79.1L142.2 104.9L141.2 107.9L140.3 104.9L140.3 79.1ZM143.8 76.2L144.7 79.2L144.7 104.9L143.8 107.9L142.8 104.9L142.8 79.2ZM146.3 76.3L147.3 79.3L147.3 104.9L146.3 107.9L145.4 104.9L145.4 79.3ZM148.8 76.4L149.8 79.4L149.8 104.9L148.8 107.9L147.9 104.9L147.9 79.4ZM151.4 76.5L152.3 79.5L152.3 104.9L151.4 107.9L150.4 104.9L150.4 79.5ZM153.9 76.6L154.8 79.6L154.8 104.9L153.9 107.9L152.9 104.9L152.9 79.6ZM156.4 76.6L157.3 79.6L157.3 104.9L156.4 107.9L155.4 104.9L155.4 79.6ZM158.9 76.7L159.8 79.7L159.8 104.9L158.9 107.9L157.9 104.9L157.9 79.7ZM161.4 76.8L162.3 79.8L162.3 104.9L161.4 107.9L160.4 104.9L160.4 79.8ZM163.9 76.9L164.9 79.9L164.9 104.9L163.9 107.9L163.0 104.9L163.0 79.9ZM166.4 77.0L167.4 80.0L167.4 104.9L166.4 107.9L165.5 104.9L165.5 80.0ZM168.9 77.1L169.9 80.1L169.9 104.9L168.9 107.9L168.0 104.9L168.0 80.1ZM171.4 77.2L172.4 80.2L172.4 104.9L171.4 107.9L170.5 104.9L170.5 80.2ZM173.9 77.2L174.9 80.2L174.9 104.9L173.9 107.9L173.0 104.9L173.0 80.2ZM176.5 77.3L177.4 80.3L177.4 104.9L176.5 107.9L175.5 104.9L175.5 80.3ZM179.0 77.3L179.9 80.3L179.9 104.9L179.0 107.9L178.0 104.9L178.0 80.3ZM181.5 77.3L182.4 80.3L182.4 104.9L181.5 107.9L180.5 104.9L180.5 80.3ZM184.0 77.3L184.9 80.3L184.9 104.9L184.0 107.9L183.0 104.9L183.0 80.3ZM186.5 77.3L187.4 80.3L187.4 104.9L186.5 107.9L185.5 104.9L185.5 80.3ZM189.0 77.3L190.0 80.3L190.0 104.9L189.0 107.9L188.1 104.9L188.1 80.3ZM191.5 77.4L192.5 80.4L192.5 104.9L191.5 107.9L190.6 104.9L190.6 80.4ZM194.0 77.4L195.0 80.4L195.0 104.9L194.0 107.9L193.1 104.9L193.1 80.4ZM196.5 77.4L197.5 80.4L197.5 104.9L196.5 107.9L195.6 104.9L195.6 80.4ZM199.1 77.4L200.0 80.4L200.0 104.9L199.1 107.9L198.1 104.9L198.1 80.4ZM201.6 77.4L202.5 80.4L202.5 104.9L201.6 107.9L200.6 104.9L200.6 80.4ZM204.1 77.4L205.0 80.4L205.0 104.9L204.1 107.9L203.1 104.9L203.1 80.4ZM206.6 77.5L207.5 80.5L207.5 104.9L206.6 107.9L205.6 104.9L205.6 80.5ZM209.1 77.5L210.0 80.5L210.0 104.9L209.1 107.9L208.1 104.9L208.1 80.5ZM211.6 77.5L212.6 80.5L212.6 104.9L211.6 107.9L210.7 104.9L210.7 80.5ZM214.1 77.5L215.1 80.5L215.1 104.9L214.1 107.9L213.2 104.9L213.2 80.5ZM216.6 77.5L217.6 80.5L217.6 104.9L216.6 107.9L215.7 104.9L215.7 80.5ZM219.1 77.5L220.1 80.5L220.1 104.9L219.1 107.9L218.2 104.9L218.2 80.5ZM221.6 77.6L222.6 80.6L222.6 104.9L221.6 107.9L220.7 104.9L220.7 80.6ZM224.2 77.6L225.1 80.6L225.1 104.9L224.2 107.9L223.2 104.9L223.2 80.6ZM226.7 77.6L227.6 80.6L227.6 104.9L226.7 107.9L225.7 104.9L225.7 80.6ZM229.2 77.6L230.1 80.6L230.1 104.9L229.2 107.9L228.2 104.9L228.2 80.6ZM231.7 77.6L232.6 80.6L232.6 104.9L231.7 107.9L230.7 104.9L230.7 80.6ZM234.2 77.6L235.2 80.6L235.2 104.9L234.2 107.9L233.3 104.9L233.3 80.6Z"/>
<polygon points="128.3,60.7 131.1,61.1 133.9,61.4 136.6,61.7 139.4,62.0 142.2,62.3 144.9,62.6 147.7,62.8 150.5,63.1 153.3,63.4 156.0,63.7 158.8,63.9 161.6,64.2 164.3,64.5 167.1,64.7 169.9,65.0 172.6,65.3 175.4,65.4 178.2,65.4 180.9,65.4 183.7,65.4 186.5,65.4 189.2,65.5 192.0,65.5 194.8,65.5 197.5,65.5 200.3,65.5 203.1,65.5 205.8,65.6 208.6,65.6 211.4,65.6 214.2,65.6 216.9,65.6 219.7,65.6 222.5,65.7 225.2,65.7 228.0,65.7 230.8,65.7 233.5,65.7 236.3,65.7 236.3,72.4 233.5,72.4 230.8,72.4 228.0,72.4 225.2,72.5 222.5,72.5 219.7,72.5 216.9,72.5 214.2,72.5 211.4,72.5 208.6,72.6 205.8,72.6 203.1,72.6 200.3,72.6 197.5,72.6 194.8,72.6 192.0,72.6 189.2,72.7 186.5,72.7 183.7,72.7 180.9,72.7 178.2,72.7 175.4,72.7 172.6,72.8 169.9,73.0 167.1,73.1 164.3,73.3 161.6,73.5 158.8,73.6 156.0,73.8 153.3,74.0 150.5,74.2 147.7,74.6 144.9,75.1 142.2,75.7 139.4,76.2 136.6,76.7 133.9,77.3 131.1,77.8 128.3,78.9" fill="url(#rg)" fill-opacity="1.0"/>
<polygon points="113.3,81.5 116.4,81.4 119.6,81.2 122.7,81.1 125.9,80.9 129.0,80.8 132.2,80.6 135.4,80.4 138.5,80.3 141.7,80.1 144.8,80.0 148.0,79.8 151.1,79.7 154.3,79.6 157.4,79.5 160.6,79.4 163.7,79.3 166.9,79.2 170.1,79.1 173.2,79.0 176.4,79.0 179.5,79.0 182.7,79.0 185.8,79.0 189.0,79.0 192.1,79.0 195.3,79.0 198.4,79.0 201.6,79.0 204.8,79.0 207.9,79.0 211.1,79.0 214.2,79.0 217.4,79.0 220.5,79.0 223.7,79.0 226.8,79.0 230.0,79.0 233.1,79.0 236.3,79.0 236.3,105.6 233.1,105.6 230.0,105.6 226.8,105.6 223.7,105.6 220.5,105.6 217.4,105.6 214.2,105.6 211.1,105.6 207.9,105.6 204.8,105.6 201.6,105.6 198.4,105.6 195.3,105.6 192.1,105.6 189.0,105.6 185.8,105.6 182.7,105.6 179.5,105.6 176.4,105.6 173.2,105.6 170.1,105.6 166.9,105.6 163.7,105.6 160.6,105.6 157.4,105.6 154.3,105.6 151.1,105.6 148.0,105.6 144.8,105.2 141.7,104.8 138.5,104.5 135.4,104.1 132.2,103.8 129.0,103.2 125.9,101.7 122.7,100.2 119.6,98.7 116.4,97.2 113.3,95.7" fill="#2f2cff" fill-opacity="1.0"/></g></g>
<g stroke="#000" fill="none">
<line x1="48" y1="11" x2="48" y2="186.5" stroke-width="2"/>
<line x1="47" y1="185.5" x2="237.3" y2="185.5" stroke-width="2"/>
<line x1="47" y1="12.1" x2="58.3" y2="12.1" stroke-width="1.8"/>
<line x1="47" y1="55.3" x2="58.3" y2="55.3" stroke-width="1.8"/>
<line x1="47" y1="98.3" x2="58.3" y2="98.3" stroke-width="1.8"/>
<line x1="47" y1="142.0" x2="58.3" y2="142.0" stroke-width="1.8"/>
<line x1="110.77" y1="176" x2="110.77" y2="186" stroke-width="1.6"/>
<line x1="173.53" y1="176" x2="173.53" y2="186" stroke-width="1.6"/>
<line x1="236.30" y1="176" x2="236.30" y2="186" stroke-width="1.6"/>
<line x1="5.8" y1="141.6" x2="15.4" y2="141.6" stroke-width="1"/>
<line x1="6" y1="184.9" x2="15.6" y2="184.9" stroke-width="1"/>
</g>
<g font-size="18" fill="#000">
<text transform="translate(38.9,16.9) scale(0.92,1)" text-anchor="end">1.0</text>
<text transform="translate(38.9,60.0) scale(0.92,1)" text-anchor="end">0.5</text>
<text transform="translate(38.9,103.3) scale(0.92,1)" text-anchor="end">0</text>
<text transform="translate(38.9,146.9) scale(0.92,1)" text-anchor="end">0.5</text>
<text transform="translate(38.9,190.3) scale(0.92,1)" text-anchor="end">1.0</text>
<text transform="translate(48.50,208.4) scale(0.89,1)" text-anchor="middle">0</text>
<text transform="translate(109.97,208.4) scale(0.89,1)" text-anchor="middle">500</text>
<text transform="translate(172.73,208.4) scale(0.89,1)" text-anchor="middle">1000</text>
<text transform="translate(235.50,208.4) scale(0.89,1)" text-anchor="middle">1500</text>
<text x="201.8" y="216.8" font-style="italic" font-size="17">t</text>
<text x="-0.6" y="37.6" font-style="italic" font-size="17">m<tspan font-size="11.5" dx="0.8" dy="2.8">i</tspan></text>
</g>
</g>
<g transform="translate(252.5,227.2)">
<g clip-path="url(#cp)"><g filter="url(#bl)"><polygon points="49.0,13.0 61.0,13.0 67.0,30.0 68.0,56.0 65.0,50.0 58.0,37.0 49.0,21.0" fill="#c8ccff" fill-opacity="0.85"/>
<polygon points="60.0,13.0 66.0,13.0 68.0,56.0 65.0,50.0 62.0,44.0" fill="#c0e0ee" fill-opacity="0.6"/>
<polygon points="49.0,44.0 55.0,62.0 62.0,80.0 66.0,100.0 60.0,100.0 58.0,80.0 49.0,76.0" fill="#665cb0" fill-opacity="1.0"/>
<polygon points="49.0,74.0 58.0,78.0 61.0,100.0 60.0,140.0 49.0,140.0" fill="#8e7e26" fill-opacity="1.0"/>
<polygon points="49.0,138.0 59.0,138.0 59.0,150.0 49.0,150.0" fill="#82b450" fill-opacity="1.0"/>
<polygon points="49.0,78.0 50.5,78.0 50.5,140.0 49.0,140.0" fill="#88b030" fill-opacity="1.0"/>
<polygon points="49.0,149.0 58.0,149.0 59.0,184.0 49.0,184.0" fill="#ee9a92" fill-opacity="1.0"/>
<polygon points="58.0,98.0 61.0,98.0 66.0,100.0 70.0,110.0 70.0,184.0 59.0,184.0 60.0,140.0" fill="#c4c690" fill-opacity="0.9"/>
<polygon points="60.1,13.2 66.8,13.2 71.9,44.1 68.1,42.4 60.1,34.7" fill="#e4d8ec" fill-opacity="0.7"/>
<polygon points="59.3,115.5 60.9,120.9 62.4,125.8 64.0,130.1 65.5,133.4 67.1,135.3 68.7,137.2 70.2,139.1 71.8,141.0 73.4,142.9 74.9,144.8 76.5,146.7 78.1,148.8 79.6,151.0 81.2,153.1 82.7,155.3 84.3,157.5 85.9,159.0 87.4,160.0 89.0,161.0 90.6,161.9 92.1,162.9 93.7,163.9 95.2,164.9 96.8,165.8 98.4,166.6 99.9,167.4 101.5,168.1 103.1,168.8 104.6,169.5 106.2,170.2 107.7,170.7 109.3,171.0 110.9,171.4 112.4,171.7 114.0,172.0 115.6,172.4 117.1,172.7 118.7,173.0 120.2,173.4 121.8,173.7 123.4,174.0 124.9,174.4 126.5,174.7 128.1,175.1 129.6,175.4 131.2,175.8 132.7,176.1 134.3,176.5 135.9,176.8 135.9,182.1 134.3,182.2 132.7,182.3 131.2,182.3 129.6,182.4 128.1,182.4 126.5,182.5 124.9,182.5 123.4,182.6 121.8,182.6 120.2,182.7 118.7,182.7 117.1,182.8 115.6,182.8 114.0,182.9 112.4,183.0 110.9,183.0 109.3,183.0 107.7,183.0 106.2,183.0 104.6,183.0 103.1,183.0 101.5,183.0 99.9,183.0 98.4,183.0 96.8,183.0 95.2,183.0 93.7,183.0 92.1,183.0 90.6,183.0 89.0,183.0 87.4,183.0 85.9,183.0 84.3,183.0 82.7,183.0 81.2,183.0 79.6,183.0 78.1,183.0 76.5,183.0 74.9,183.0 73.4,183.0 71.8,183.0 70.2,183.0 68.7,183.0 67.1,183.0 65.5,183.0 64.0,183.0 62.4,183.0 60.9,168.2 59.3,143.7" fill="#b8eeb8" fill-opacity="0.8"/>
<path fill="#44bb44" fill-opacity="0.55" d="M56.1 12.3L56.7 15.3L56.7 98.4L56.1 101.4L55.4 98.4L55.4 15.3ZM59.0 12.3L59.6 15.3L59.6 135.9L59.0 138.9L58.3 135.9L58.3 15.3ZM62.1 12.3L62.7 15.3L62.7 180.0L62.1 183.0L61.4 180.0L61.4 15.3ZM65.4 12.3L66.0 15.3L66.0 180.0L65.4 183.0L64.7 180.0L64.7 15.3ZM68.9 28.8L69.5 31.8L69.5 180.0L68.9 183.0L68.2 180.0L68.2 31.8ZM72.4 100.9L73.0 103.9L73.0 180.0L72.4 183.0L71.7 180.0L71.7 103.9ZM75.9 138.3L76.5 141.3L76.5 180.0L75.9 183.0L75.2 180.0L75.2 141.3ZM79.4 150.7L80.0 153.7L80.0 180.0L79.4 183.0L78.7 180.0L78.7 153.7ZM82.9 155.5L83.5 158.5L83.5 180.0L82.9 183.0L82.2 180.0L82.2 158.5ZM86.4 159.3L87.0 162.3L87.0 180.0L86.4 183.0L85.7 180.0L85.7 162.3ZM89.8 161.5L90.5 164.5L90.5 180.0L89.8 183.0L89.2 180.0L89.2 164.5ZM93.3 163.7L94.0 166.7L94.0 180.0L93.3 183.0L92.7 180.0L92.7 166.7ZM96.8 165.8L97.4 168.8L97.4 180.0L96.8 183.0L96.1 180.0L96.1 168.8ZM100.3 167.5L100.9 170.5L100.9 180.0L100.3 183.0L99.6 180.0L99.6 170.5ZM103.7 169.1L104.4 172.1L104.4 180.0L103.7 183.0L103.1 180.0L103.1 172.1ZM107.1 170.6L107.8 173.6L107.8 180.0L107.1 183.0L106.5 180.0L106.5 173.6ZM110.4 171.3L111.1 174.3L111.1 180.0L110.4 183.0L109.8 180.0L109.8 174.3ZM113.6 172.0L114.3 175.0L114.3 179.9L113.6 182.9L113.0 179.9L113.0 175.0ZM116.7 172.6L117.3 175.6L117.3 179.8L116.7 182.8L116.0 179.8L116.0 175.6ZM119.6 173.2L120.3 176.2L120.3 179.7L119.6 182.7L119.0 179.7L119.0 176.2ZM122.5 173.9L123.1 176.9L123.1 179.6L122.5 182.6L121.8 179.6L121.8 176.9ZM125.2 174.4L125.9 177.4L125.9 179.5L125.2 182.5L124.6 179.5L124.6 177.4ZM128.0 175.0L128.6 178.0L128.6 179.4L128.0 182.4L127.3 179.4L127.3 178.0ZM130.7 175.7L131.3 178.7L131.3 179.3L130.7 182.3L130.0 179.3L130.0 178.7ZM133.3 176.3L134.0 179.3L134.0 179.3L133.3 182.2L132.7 179.3L132.7 179.3ZM136.0 176.9L136.6 179.5L136.6 179.5L136.0 182.1L135.3 179.5L135.3 179.5ZM138.6 177.5L139.3 179.8L139.3 179.8L138.6 182.1L138.0 179.8L138.0 179.8ZM141.2 178.1L141.9 180.1L141.9 180.1L141.2 182.1L140.6 180.1L140.6 180.1ZM143.8 178.3L144.4 180.2L144.4 180.2L143.8 182.0L143.1 180.2L143.1 180.2ZM146.3 178.4L147.0 180.2L147.0 180.2L146.3 182.0L145.7 180.2L145.7 180.2ZM148.8 178.5L149.5 180.2L149.5 180.2L148.8 181.9L148.2 180.2L148.2 180.2ZM151.4 178.6L152.0 180.3L152.0 180.3L151.4 181.9L150.7 180.3L150.7 180.3ZM153.9 178.7L154.5 180.3L154.5 180.3L153.9 181.9L153.2 180.3L153.2 180.3ZM156.4 178.8L157.0 180.3L157.0 180.3L156.4 181.8L155.7 180.3L155.7 180.3ZM158.9 178.9L159.5 180.3L159.5 180.3L158.9 181.8L158.2 180.3L158.2 180.3ZM161.4 179.0L162.0 180.4L162.0 180.4L161.4 181.7L160.7 180.4L160.7 180.4ZM163.9 179.1L164.6 180.4L164.6 180.4L163.9 181.7L163.3 180.4L163.3 180.4ZM166.4 179.1L167.1 180.4L167.1 180.4L166.4 181.7L165.8 180.4L165.8 180.4ZM168.9 179.2L169.6 180.4L169.6 180.4L168.9 181.6L168.3 180.4L168.3 180.4ZM171.4 179.3L172.1 180.5L172.1 180.5L171.4 181.6L170.8 180.5L170.8 180.5ZM173.9 179.4L174.6 180.5L174.6 180.5L173.9 181.5L173.3 180.5L173.3 180.5ZM176.5 179.4L177.1 180.5L177.1 180.5L176.5 181.5L175.8 180.5L175.8 180.5ZM179.0 179.4L179.6 180.5L179.6 180.5L179.0 181.5L178.3 180.5L178.3 180.5ZM181.5 179.4L182.1 180.5L182.1 180.5L181.5 181.5L180.8 180.5L180.8 180.5ZM184.0 179.4L184.6 180.5L184.6 180.5L184.0 181.5L183.3 180.5L183.3 180.5ZM186.5 179.5L187.1 180.5L187.1 180.5L186.5 181.5L185.8 180.5L185.8 180.5ZM189.0 179.5L189.7 180.5L189.7 180.5L189.0 181.5L188.4 180.5L188.4 180.5ZM191.5 179.5L192.2 180.5L192.2 180.5L191.5 181.4L190.9 180.5L190.9 180.5ZM194.0 179.5L194.7 180.5L194.7 180.5L194.0 181.4L193.4 180.5L193.4 180.5ZM196.5 179.5L197.2 180.5L197.2 180.5L196.5 181.4L195.9 180.5L195.9 180.5ZM199.1 179.5L199.7 180.5L199.7 180.5L199.1 181.4L198.4 180.5L198.4 180.5ZM201.6 179.5L202.2 180.5L202.2 180.5L201.6 181.4L200.9 180.5L200.9 180.5ZM204.1 179.5L204.7 180.5L204.7 180.5L204.1 181.4L203.4 180.5L203.4 180.5ZM206.6 179.5L207.2 180.5L207.2 180.5L206.6 181.4L205.9 180.5L205.9 180.5ZM209.1 179.5L209.7 180.4L209.7 180.4L209.1 181.4L208.4 180.4L208.4 180.4ZM211.6 179.6L212.3 180.4L212.3 180.4L211.6 181.3L211.0 180.4L211.0 180.4ZM214.1 179.6L214.8 180.4L214.8 180.4L214.1 181.3L213.5 180.4L213.5 180.4ZM216.6 179.6L217.3 180.4L217.3 180.4L216.6 181.3L216.0 180.4L216.0 180.4ZM219.1 179.6L219.8 180.4L219.8 180.4L219.1 181.3L218.5 180.4L218.5 180.4ZM221.6 179.6L222.3 180.4L222.3 180.4L221.6 181.3L221.0 180.4L221.0 180.4ZM224.2 179.6L224.8 180.4L224.8 180.4L224.2 181.3L223.5 180.4L223.5 180.4ZM226.7 179.6L227.3 180.4L227.3 180.4L226.7 181.3L226.0 180.4L226.0 180.4ZM229.2 179.6L229.8 180.4L229.8 180.4L229.2 181.2L228.5 180.4L228.5 180.4ZM231.7 179.6L232.3 180.4L232.3 180.4L231.7 181.2L231.0 180.4L231.0 180.4ZM234.2 179.6L234.9 180.4L234.9 180.4L234.2 181.2L233.6 180.4L233.6 180.4Z"/>
<path fill="#e00008" fill-opacity="0.6" d="M53.3 112.3L53.9 115.3L53.9 181.3L53.3 184.3L52.6 181.3L52.6 115.3ZM56.1 73.9L56.7 76.9L56.7 181.3L56.1 184.3L55.4 181.3L55.4 76.9ZM59.0 33.7L59.6 36.7L59.6 181.3L59.0 184.3L58.3 181.3L58.3 36.7ZM62.1 12.3L62.7 15.3L62.7 180.7L62.1 183.7L61.4 180.7L61.4 15.3ZM65.4 12.3L66.0 15.3L66.0 179.3L65.4 182.3L64.7 179.3L64.7 15.3ZM68.9 12.3L69.5 15.3L69.5 178.2L68.9 181.2L68.2 178.2L68.2 15.3ZM72.4 12.9L73.0 15.9L73.0 177.2L72.4 180.2L71.7 177.2L71.7 15.9ZM75.9 16.6L76.5 19.6L76.5 175.3L75.9 178.3L75.2 175.3L75.2 19.6ZM79.4 20.3L80.0 23.3L80.0 173.1L79.4 176.1L78.7 173.1L78.7 23.3ZM82.9 24.1L83.5 27.1L83.5 170.2L82.9 173.2L82.2 170.2L82.2 27.1ZM86.4 28.0L87.0 31.0L87.0 167.3L86.4 170.3L85.7 167.3L85.7 31.0ZM89.8 31.9L90.5 34.9L90.5 164.3L89.8 167.3L89.2 164.3L89.2 34.9ZM93.3 36.1L94.0 39.1L94.0 160.4L93.3 163.4L92.7 160.4L92.7 39.1ZM96.8 40.3L97.4 43.3L97.4 156.5L96.8 159.5L96.1 156.5L96.1 43.3ZM100.3 44.4L100.9 47.4L100.9 152.5L100.3 155.5L99.6 152.5L99.6 47.4ZM103.7 47.3L104.4 50.3L104.4 147.3L103.7 150.3L103.1 147.3L103.1 50.3ZM107.1 50.2L107.8 53.2L107.8 127.3L107.1 130.3L106.5 127.3L106.5 53.2Z"/>
<path fill="#e00008" fill-opacity="0.75" d="M112.0 53.5L112.7 56.5L112.7 89.5L112.0 92.5L111.4 89.5L111.4 56.5ZM115.2 55.3L115.8 58.3L115.8 85.8L115.2 88.8L114.5 85.8L114.5 58.3ZM118.2 56.2L118.8 59.2L118.8 83.9L118.2 86.9L117.5 83.9L117.5 59.2ZM121.1 57.1L121.7 60.1L121.7 82.0L121.1 85.0L120.4 82.0L120.4 60.1ZM123.9 57.9L124.5 60.9L124.5 80.2L123.9 83.2L123.2 80.2L123.2 60.9ZM126.6 58.7L127.3 61.7L127.3 78.5L126.6 81.5L126.0 78.5L126.0 61.7ZM129.3 59.5L130.0 62.5L130.0 76.8L129.3 79.8L128.7 76.8L128.7 62.5ZM132.0 59.9L132.7 62.9L132.7 75.9L132.0 78.9L131.4 75.9L131.4 62.9ZM134.7 60.2L135.3 63.2L135.3 75.4L134.7 78.4L134.0 75.4L134.0 63.2ZM137.3 60.6L138.0 63.6L138.0 74.8L137.3 77.8L136.7 74.8L136.7 63.6ZM139.9 60.9L140.6 63.9L140.6 74.3L139.9 77.3L139.3 74.3L139.3 63.9ZM142.5 61.2L143.1 64.2L143.1 73.7L142.5 76.7L141.8 73.7L141.8 64.2ZM145.1 61.5L145.7 64.5L145.7 73.2L145.1 76.2L144.4 73.2L144.4 64.5ZM147.6 61.9L148.2 64.9L148.2 72.6L147.6 75.6L146.9 72.6L146.9 64.9ZM150.1 62.2L150.7 65.2L150.7 72.1L150.1 75.1L149.4 72.1L149.4 65.2ZM152.6 62.5L153.3 65.5L153.3 71.9L152.6 74.9L152.0 71.9L152.0 65.5ZM155.1 62.7L155.8 65.7L155.8 71.7L155.1 74.7L154.5 71.7L154.5 65.7ZM157.6 63.0L158.3 66.0L158.3 71.5L157.6 74.5L157.0 71.5L157.0 66.0ZM160.1 63.3L160.8 66.3L160.8 71.3L160.1 74.3L159.5 71.3L159.5 66.3ZM162.6 63.6L163.3 66.6L163.3 71.2L162.6 74.2L162.0 71.2L162.0 66.6ZM165.2 63.8L165.8 66.8L165.8 71.0L165.2 74.0L164.5 71.0L164.5 66.8ZM167.7 64.1L168.3 67.1L168.3 70.8L167.7 73.8L167.0 70.8L167.0 67.1ZM170.2 64.4L170.8 67.4L170.8 70.6L170.2 73.6L169.5 70.6L169.5 67.4ZM172.7 64.7L173.3 67.7L173.3 70.4L172.7 73.4L172.0 70.4L172.0 67.7ZM175.2 64.8L175.9 67.8L175.9 70.3L175.2 73.3L174.6 70.3L174.6 67.8ZM177.7 64.8L178.4 67.8L178.4 70.3L177.7 73.3L177.1 70.3L177.1 67.8ZM180.2 64.8L180.9 67.8L180.9 70.3L180.2 73.3L179.6 70.3L179.6 67.8ZM182.7 64.8L183.4 67.8L183.4 70.3L182.7 73.3L182.1 70.3L182.1 67.8ZM185.2 64.8L185.9 67.8L185.9 70.3L185.2 73.3L184.6 70.3L184.6 67.8ZM187.8 64.9L188.4 67.9L188.4 70.3L187.8 73.3L187.1 70.3L187.1 67.9ZM190.3 64.9L190.9 67.9L190.9 70.2L190.3 73.2L189.6 70.2L189.6 67.9ZM192.8 64.9L193.4 67.9L193.4 70.2L192.8 73.2L192.1 70.2L192.1 67.9ZM195.3 64.9L195.9 67.9L195.9 70.2L195.3 73.2L194.6 70.2L194.6 67.9ZM197.8 64.9L198.4 67.9L198.4 70.2L197.8 73.2L197.1 70.2L197.1 67.9ZM200.3 64.9L201.0 67.9L201.0 70.2L200.3 73.2L199.7 70.2L199.7 67.9ZM202.8 65.0L203.5 68.0L203.5 70.2L202.8 73.2L202.2 70.2L202.2 68.0ZM205.3 65.0L206.0 68.0L206.0 70.1L205.3 73.1L204.7 70.1L204.7 68.0ZM207.8 65.0L208.5 68.0L208.5 70.1L207.8 73.1L207.2 70.1L207.2 68.0ZM210.3 65.0L211.0 68.0L211.0 70.1L210.3 73.1L209.7 70.1L209.7 68.0ZM212.9 65.0L213.5 68.0L213.5 70.1L212.9 73.1L212.2 70.1L212.2 68.0ZM215.4 65.0L216.0 68.0L216.0 70.1L215.4 73.1L214.7 70.1L214.7 68.0ZM217.9 65.1L218.5 68.1L218.5 70.1L217.9 73.1L217.2 70.1L217.2 68.1ZM220.4 65.1L221.0 68.1L221.0 70.0L220.4 73.0L219.7 70.0L219.7 68.1ZM222.9 65.1L223.6 68.1L223.6 70.0L222.9 73.0L222.3 70.0L222.3 68.1ZM225.4 65.1L226.1 68.1L226.1 70.0L225.4 73.0L224.8 70.0L224.8 68.1ZM227.9 65.1L228.6 68.1L228.6 70.0L227.9 73.0L227.3 70.0L227.3 68.1ZM230.4 65.1L231.1 68.1L231.1 70.0L230.4 73.0L229.8 70.0L229.8 68.1ZM232.9 65.2L233.6 68.2L233.6 70.0L232.9 73.0L232.3 70.0L232.3 68.2ZM235.5 65.2L236.1 68.2L236.1 69.9L235.5 72.9L234.8 69.9L234.8 68.2Z"/>
<path fill="none" stroke="url(#gg)" stroke-width="1.35" stroke-linejoin="round" d="M108.3 171.7 108.5 174.1 108.8 177.2 109.1 180.2 109.4 182.3 109.6 183.0 109.9 182.1 110.2 179.9 110.4 176.9 110.7 174.1 111.0 172.1 111.3 171.5 111.5 172.4 111.8 174.6 112.1 177.5 112.3 180.3 112.6 182.3 112.8 182.9 113.1 182.1 113.4 179.9 113.6 177.2 113.9 174.5 114.2 172.7 114.4 172.1 114.7 173.0 114.9 175.1 115.2 177.8 115.4 180.5 115.7 182.3 115.9 182.8 116.2 182.0 116.5 180.0 116.7 177.4 117.0 175.0 117.2 173.3 117.5 172.8 117.7 173.7 117.9 175.6 118.2 178.1 118.4 180.6 118.7 182.2 118.9 182.7 119.2 181.9 119.4 180.1 119.7 177.7 119.9 175.4 120.1 173.8 120.4 173.4 120.6 174.2 120.9 176.1 121.1 178.4 121.3 180.7 121.6 182.2 121.8 182.6 122.0 181.9 122.3 180.1 122.5 177.9 122.7 175.8 123.0 174.4 123.2 174.0 123.4 174.8 123.7 176.5 123.9 178.7 124.1 180.7 124.4 182.1 124.6 182.5 124.8 181.8 125.0 180.2 125.3 178.2 125.5 176.2 125.7 174.9 126.0 174.6 126.2 175.3 126.4 176.9 126.6 178.9 126.9 180.8 127.1 182.1 127.3 182.4 127.5 181.8 127.8 180.3 128.0 178.4 128.2 176.7 128.5 175.5 128.7 175.2 128.9 175.9 129.1 177.3 129.4 179.2 129.6 180.9 129.8 182.0 130.0 182.3 130.3 181.7 130.5 180.4 130.7 178.7 130.9 177.1 131.2 176.1 131.4 175.8 131.6 176.5 131.8 177.8 132.0 179.4 132.3 180.9 132.5 182.0 132.7 182.2 132.9 181.7 133.2 180.5 133.4 179.0 133.6 177.6 133.8 176.6 134.0 176.4 134.3 177.0 134.5 178.2 134.7 179.6 134.9 181.0 135.1 181.9 135.4 182.2 135.6 181.7 135.8 180.6 136.0 179.3 136.2 178.0 136.5 177.2 136.7 177.0 136.9 177.5 137.1 178.6 137.3 179.9 137.6 181.1 137.8 181.9 138.0 182.1 138.2 181.7 138.4 180.7 138.7 179.6 138.9 178.5 139.1 177.8 139.3 177.6 139.5 178.1 139.7 179.0 140.0 180.1 140.2 181.2 140.4 181.9 140.6 182.1 140.8 181.7 141.0 180.9 141.2 179.9 141.5 178.9 141.7 178.3 141.9 178.2 142.1 178.6 142.3 179.4 142.5 180.4 142.7 181.3 143.0 181.9 143.2 182.0 143.4 181.7 143.6 180.9 143.8 180.0 144.0 179.1 144.2 178.5 144.5 178.4 144.7 178.7 144.9 179.4 145.1 180.4 145.3 181.3 145.5 181.8 145.7 182.0 145.9 181.7 146.2 180.9 146.4 180.0 146.6 179.2 146.8 178.6 147.0 178.5 147.2 178.8 147.4 179.5 147.6 180.4 147.8 181.2 148.0 181.8 148.3 181.9 148.5 181.6 148.7 180.9 148.9 180.1 149.1 179.2 149.3 178.7 149.5 178.6 149.7 178.9 149.9 179.6 150.1 180.4 150.3 181.2 150.6 181.8 150.8 181.9 151.0 181.6 151.2 180.9 151.4 180.1 151.6 179.3 151.8 178.8 152.0 178.6 152.2 178.9 152.4 179.6 152.6 180.4 152.9 181.2 153.1 181.7 153.3 181.9 153.5 181.6 153.7 180.9 153.9 180.1 154.1 179.4 154.3 178.8 154.5 178.7 154.7 179.0 154.9 179.7 155.2 180.5 155.4 181.2 155.6 181.7 155.8 181.8 156.0 181.5 156.2 180.9 156.4 180.1 156.6 179.4 156.8 178.9 157.0 178.8 157.3 179.1 157.5 179.7 157.7 180.5 157.9 181.2 158.1 181.7 158.3 181.8 158.5 181.5 158.7 180.9 158.9 180.2 159.1 179.5 159.3 179.0 159.6 178.9 159.8 179.2 160.0 179.8 160.2 180.5 160.4 181.2 160.6 181.6 160.8 181.7 161.0 181.5 161.2 180.9 161.4 180.2 161.6 179.5 161.9 179.1 162.1 179.0 162.3 179.3 162.5 179.8 162.7 180.5 162.9 181.2 163.1 181.6 163.3 181.7 163.5 181.5 163.7 180.9 163.9 180.2 164.2 179.6 164.4 179.2 164.6 179.1 164.8 179.3 165.0 179.9 165.2 180.5 165.4 181.1 165.6 181.6 165.8 181.7 166.0 181.4 166.2 180.9 166.5 180.3 166.7 179.7 166.9 179.3 167.1 179.2 167.3 179.4 167.5 179.9 167.7 180.5 167.9 181.1 168.1 181.5 168.3 181.6 168.5 181.4 168.8 180.9 169.0 180.3 169.2 179.7 169.4 179.4 169.6 179.3 169.8 179.5 170.0 180.0 170.2 180.6 170.4 181.1 170.6 181.5 170.8 181.6 171.1 181.4 171.3 180.9 171.5 180.3 171.7 179.8 171.9 179.4 172.1 179.4 172.3 179.6 172.5 180.0 172.7 180.6 172.9 181.1 173.2 181.5 173.4 181.5 173.6 181.3 173.8 180.9 174.0 180.4 174.2 179.8 174.4 179.5 174.6 179.4 174.8 179.6 175.0 180.0 175.2 180.6 175.5 181.1 175.7 181.4 175.9 181.5 176.1 181.3 176.3 180.9 176.5 180.4 176.7 179.8 176.9 179.5 177.1 179.4 177.3 179.6 177.5 180.0 177.8 180.6 178.0 181.1 178.2 181.4 178.4 181.5 178.6 181.3 178.8 180.9 179.0 180.4 179.2 179.9 179.4 179.5 179.6 179.4 179.8 179.6 180.1 180.0 180.3 180.6 180.5 181.1 180.7 181.4 180.9 181.5 181.1 181.3 181.3 180.9 181.5 180.4 181.7 179.9 181.9 179.5 182.1 179.4 182.4 179.6 182.6 180.0 182.8 180.6 183.0 181.1 183.2 181.4 183.4 181.5 183.6 181.3 183.8 180.9 184.0 180.4 184.2 179.9 184.4 179.5 184.7 179.4 184.9 179.6 185.1 180.1 185.3 180.6 185.5 181.1 185.7 181.4 185.9 181.5 186.1 181.3 186.3 180.9 186.5 180.4 186.8 179.9 187.0 179.5 187.2 179.5 187.4 179.6 187.6 180.1 187.8 180.6 188.0 181.1 188.2 181.4 188.4 181.5 188.6 181.3 188.8 180.9 189.1 180.4 189.3 179.9 189.5 179.5 189.7 179.5 189.9 179.7 190.1 180.1 190.3 180.6 190.5 181.0 190.7 181.4 190.9 181.4 191.1 181.3 191.4 180.9 191.6 180.4 191.8 179.9 192.0 179.6 192.2 179.5 192.4 179.7 192.6 180.1 192.8 180.6 193.0 181.0 193.2 181.4 193.4 181.4 193.7 181.3 193.9 180.9 194.1 180.4 194.3 179.9 194.5 179.6 194.7 179.5 194.9 179.7 195.1 180.1 195.3 180.6 195.5 181.0 195.7 181.3 196.0 181.4 196.2 181.2 196.4 180.9 196.6 180.4 196.8 179.9 197.0 179.6 197.2 179.5 197.4 179.7 197.6 180.1 197.8 180.6 198.0 181.0 198.3 181.3 198.5 181.4 198.7 181.2 198.9 180.8 199.1 180.4 199.3 179.9 199.5 179.6 199.7 179.5 199.9 179.7 200.1 180.1 200.3 180.6 200.6 181.0 200.8 181.3 201.0 181.4 201.2 181.2 201.4 180.8 201.6 180.4 201.8 179.9 202.0 179.6 202.2 179.5 202.4 179.7 202.7 180.1 202.9 180.6 203.1 181.0 203.3 181.3 203.5 181.4 203.7 181.2 203.9 180.8 204.1 180.4 204.3 179.9 204.5 179.6 204.7 179.5 205.0 179.7 205.2 180.1 205.4 180.5 205.6 181.0 205.8 181.3 206.0 181.4 206.2 181.2 206.4 180.8 206.6 180.4 206.8 179.9 207.0 179.6 207.3 179.5 207.5 179.7 207.7 180.1 207.9 180.5 208.1 181.0 208.3 181.3 208.5 181.4 208.7 181.2 208.9 180.8 209.1 180.4 209.3 179.9 209.6 179.6 209.8 179.6 210.0 179.7 210.2 180.1 210.4 180.5 210.6 181.0 210.8 181.3 211.0 181.3 211.2 181.2 211.4 180.8 211.6 180.4 211.9 179.9 212.1 179.6 212.3 179.6 212.5 179.7 212.7 180.1 212.9 180.5 213.1 181.0 213.3 181.3 213.5 181.3 213.7 181.2 213.9 180.8 214.2 180.4 214.4 179.9 214.6 179.6 214.8 179.6 215.0 179.7 215.2 180.1 215.4 180.5 215.6 181.0 215.8 181.2 216.0 181.3 216.2 181.1 216.5 180.8 216.7 180.4 216.9 179.9 217.1 179.7 217.3 179.6 217.5 179.7 217.7 180.1 217.9 180.5 218.1 180.9 218.3 181.2 218.6 181.3 218.8 181.1 219.0 180.8 219.2 180.4 219.4 179.9 219.6 179.7 219.8 179.6 220.0 179.8 220.2 180.1 220.4 180.5 220.6 180.9 220.9 181.2 221.1 181.3 221.3 181.1 221.5 180.8 221.7 180.4 221.9 179.9 222.1 179.7 222.3 179.6 222.5 179.8 222.7 180.1 222.9 180.5 223.2 180.9 223.4 181.2 223.6 181.3 223.8 181.1 224.0 180.8 224.2 180.4 224.4 179.9 224.6 179.7 224.8 179.6 225.0 179.8 225.2 180.1 225.5 180.5 225.7 180.9 225.9 181.2 226.1 181.3 226.3 181.1 226.5 180.8 226.7 180.4 226.9 180.0 227.1 179.7 227.3 179.6 227.5 179.8 227.8 180.1 228.0 180.5 228.2 180.9 228.4 181.2 228.6 181.2 228.8 181.1 229.0 180.8 229.2 180.4 229.4 180.0 229.6 179.7 229.8 179.6 230.1 179.8 230.3 180.1 230.5 180.5 230.7 180.9 230.9 181.2 231.1 181.2 231.3 181.1 231.5 180.8 231.7 180.4 231.9 180.0 232.2 179.7 232.4 179.6 232.6 179.8 232.8 180.1 233.0 180.5 233.2 180.9 233.4 181.2 233.6 181.2 233.8 181.1 234.0 180.8 234.2 180.3 234.5 180.0 234.7 179.7 234.9 179.7 235.1 179.8 235.3 180.1 235.5 180.5 235.7 180.9 235.9 181.1 236.1 181.2 236.3 181.1"/>
<polygon points="49.0,21.0 58.0,37.0 65.0,50.0 77.0,63.0 93.0,84.0 109.0,80.0 109.0,106.0 93.0,109.0 77.0,101.0 62.0,82.0 55.0,65.0 49.0,47.0" fill="url(#bandg)"/>
<path fill="url(#bgd)" d="M68.9 42.8L69.8 45.8L69.8 127.7L68.9 130.7L67.9 127.7L67.9 45.8ZM72.4 44.5L73.3 47.5L73.3 137.0L72.4 140.0L71.4 137.0L71.4 47.5ZM75.9 46.2L76.8 49.2L76.8 137.6L75.9 140.6L74.9 137.6L74.9 49.2ZM79.4 50.2L80.3 53.2L80.3 138.2L79.4 141.2L78.4 138.2L78.4 53.2ZM82.9 54.9L83.8 57.9L83.8 136.6L82.9 139.6L81.9 136.6L81.9 57.9ZM86.4 59.6L87.3 62.6L87.3 134.5L86.4 137.5L85.4 134.5L85.4 62.6ZM89.8 64.1L90.8 67.1L90.8 132.4L89.8 135.4L88.9 132.4L88.9 67.1ZM93.3 68.5L94.3 71.5L94.3 128.0L93.3 131.0L92.4 128.0L92.4 71.5ZM96.8 72.4L97.7 75.4L97.7 123.4L96.8 126.4L95.8 123.4L95.8 75.4ZM100.3 75.7L101.2 78.7L101.2 118.8L100.3 121.8L99.3 118.8L99.3 78.7ZM103.7 76.7L104.7 79.7L104.7 113.6L103.7 116.6L102.8 113.6L102.8 79.7ZM107.1 76.5L108.1 79.5L108.1 108.4L107.1 111.4L106.2 108.4L106.2 79.5ZM110.4 74.7L111.4 77.7L111.4 106.4L110.4 109.4L109.5 106.4L109.5 77.7ZM113.6 74.8L114.6 77.8L114.6 106.1L113.6 109.1L112.7 106.1L112.7 77.8ZM116.7 75.0L117.6 78.0L117.6 105.7L116.7 108.7L115.7 105.7L115.7 78.0ZM119.6 75.1L120.6 78.1L120.6 105.4L119.6 108.4L118.7 105.4L118.7 78.1ZM122.5 75.3L123.4 78.3L123.4 105.0L122.5 108.0L121.5 105.0L121.5 78.3ZM125.2 75.4L126.2 78.4L126.2 104.9L125.2 107.9L124.3 104.9L124.3 78.4ZM128.0 75.5L128.9 78.5L128.9 104.9L128.0 107.9L127.0 104.9L127.0 78.5ZM130.7 75.7L131.6 78.7L131.6 104.9L130.7 107.9L129.7 104.9L129.7 78.7ZM133.3 75.8L134.3 78.8L134.3 104.9L133.3 107.9L132.4 104.9L132.4 78.8ZM136.0 75.9L136.9 78.9L136.9 104.9L136.0 107.9L135.0 104.9L135.0 78.9ZM138.6 76.0L139.6 79.0L139.6 104.9L138.6 107.9L137.7 104.9L137.7 79.0ZM141.2 76.1L142.2 79.1L142.2 104.9L141.2 107.9L140.3 104.9L140.3 79.1ZM143.8 76.2L144.7 79.2L144.7 104.9L143.8 107.9L142.8 104.9L142.8 79.2ZM146.3 76.3L147.3 79.3L147.3 104.9L146.3 107.9L145.4 104.9L145.4 79.3ZM148.8 76.4L149.8 79.4L149.8 104.9L148.8 107.9L147.9 104.9L147.9 79.4ZM151.4 76.5L152.3 79.5L152.3 104.9L151.4 107.9L150.4 104.9L150.4 79.5ZM153.9 76.6L154.8 79.6L154.8 104.9L153.9 107.9L152.9 104.9L152.9 79.6ZM156.4 76.6L157.3 79.6L157.3 104.9L156.4 107.9L155.4 104.9L155.4 79.6ZM158.9 76.7L159.8 79.7L159.8 104.9L158.9 107.9L157.9 104.9L157.9 79.7ZM161.4 76.8L162.3 79.8L162.3 104.9L161.4 107.9L160.4 104.9L160.4 79.8ZM163.9 76.9L164.9 79.9L164.9 104.9L163.9 107.9L163.0 104.9L163.0 79.9ZM166.4 77.0L167.4 80.0L167.4 104.9L166.4 107.9L165.5 104.9L165.5 80.0ZM168.9 77.1L169.9 80.1L169.9 104.9L168.9 107.9L168.0 104.9L168.0 80.1ZM171.4 77.2L172.4 80.2L172.4 104.9L171.4 107.9L170.5 104.9L170.5 80.2ZM173.9 77.2L174.9 80.2L174.9 104.9L173.9 107.9L173.0 104.9L173.0 80.2ZM176.5 77.3L177.4 80.3L177.4 104.9L176.5 107.9L175.5 104.9L175.5 80.3ZM179.0 77.3L179.9 80.3L179.9 104.9L179.0 107.9L178.0 104.9L178.0 80.3ZM181.5 77.3L182.4 80.3L182.4 104.9L181.5 107.9L180.5 104.9L180.5 80.3ZM184.0 77.3L184.9 80.3L184.9 104.9L184.0 107.9L183.0 104.9L183.0 80.3ZM186.5 77.3L187.4 80.3L187.4 104.9L186.5 107.9L185.5 104.9L185.5 80.3ZM189.0 77.3L190.0 80.3L190.0 104.9L189.0 107.9L188.1 104.9L188.1 80.3ZM191.5 77.4L192.5 80.4L192.5 104.9L191.5 107.9L190.6 104.9L190.6 80.4ZM194.0 77.4L195.0 80.4L195.0 104.9L194.0 107.9L193.1 104.9L193.1 80.4ZM196.5 77.4L197.5 80.4L197.5 104.9L196.5 107.9L195.6 104.9L195.6 80.4ZM199.1 77.4L200.0 80.4L200.0 104.9L199.1 107.9L198.1 104.9L198.1 80.4ZM201.6 77.4L202.5 80.4L202.5 104.9L201.6 107.9L200.6 104.9L200.6 80.4ZM204.1 77.4L205.0 80.4L205.0 104.9L204.1 107.9L203.1 104.9L203.1 80.4ZM206.6 77.5L207.5 80.5L207.5 104.9L206.6 107.9L205.6 104.9L205.6 80.5ZM209.1 77.5L210.0 80.5L210.0 104.9L209.1 107.9L208.1 104.9L208.1 80.5ZM211.6 77.5L212.6 80.5L212.6 104.9L211.6 107.9L210.7 104.9L210.7 80.5ZM214.1 77.5L215.1 80.5L215.1 104.9L214.1 107.9L213.2 104.9L213.2 80.5ZM216.6 77.5L217.6 80.5L217.6 104.9L216.6 107.9L215.7 104.9L215.7 80.5ZM219.1 77.5L220.1 80.5L220.1 104.9L219.1 107.9L218.2 104.9L218.2 80.5ZM221.6 77.6L222.6 80.6L222.6 104.9L221.6 107.9L220.7 104.9L220.7 80.6ZM224.2 77.6L225.1 80.6L225.1 104.9L224.2 107.9L223.2 104.9L223.2 80.6ZM226.7 77.6L227.6 80.6L227.6 104.9L226.7 107.9L225.7 104.9L225.7 80.6ZM229.2 77.6L230.1 80.6L230.1 104.9L229.2 107.9L228.2 104.9L228.2 80.6ZM231.7 77.6L232.6 80.6L232.6 104.9L231.7 107.9L230.7 104.9L230.7 80.6ZM234.2 77.6L235.2 80.6L235.2 104.9L234.2 107.9L233.3 104.9L233.3 80.6Z"/>
<polygon points="128.3,60.7 131.1,61.1 133.9,61.4 136.6,61.7 139.4,62.0 142.2,62.3 144.9,62.6 147.7,62.8 150.5,63.1 153.3,63.4 156.0,63.7 158.8,63.9 161.6,64.2 164.3,64.5 167.1,64.7 169.9,65.0 172.6,65.3 175.4,65.4 178.2,65.4 180.9,65.4 183.7,65.4 186.5,65.4 189.2,65.5 192.0,65.5 194.8,65.5 197.5,65.5 200.3,65.5 203.1,65.5 205.8,65.6 208.6,65.6 211.4,65.6 214.2,65.6 216.9,65.6 219.7,65.6 222.5,65.7 225.2,65.7 228.0,65.7 230.8,65.7 233.5,65.7 236.3,65.7 236.3,72.4 233.5,72.4 230.8,72.4 228.0,72.4 225.2,72.5 222.5,72.5 219.7,72.5 216.9,72.5 214.2,72.5 211.4,72.5 208.6,72.6 205.8,72.6 203.1,72.6 200.3,72.6 197.5,72.6 194.8,72.6 192.0,72.6 189.2,72.7 186.5,72.7 183.7,72.7 180.9,72.7 178.2,72.7 175.4,72.7 172.6,72.8 169.9,73.0 167.1,73.1 164.3,73.3 161.6,73.5 158.8,73.6 156.0,73.8 153.3,74.0 150.5,74.2 147.7,74.6 144.9,75.1 142.2,75.7 139.4,76.2 136.6,76.7 133.9,77.3 131.1,77.8 128.3,78.9" fill="url(#rg)" fill-opacity="1.0"/>
<polygon points="113.3,81.5 116.4,81.4 119.6,81.2 122.7,81.1 125.9,80.9 129.0,80.8 132.2,80.6 135.4,80.4 138.5,80.3 141.7,80.1 144.8,80.0 148.0,79.8 151.1,79.7 154.3,79.6 157.4,79.5 160.6,79.4 163.7,79.3 166.9,79.2 170.1,79.1 173.2,79.0 176.4,79.0 179.5,79.0 182.7,79.0 185.8,79.0 189.0,79.0 192.1,79.0 195.3,79.0 198.4,79.0 201.6,79.0 204.8,79.0 207.9,79.0 211.1,79.0 214.2,79.0 217.4,79.0 220.5,79.0 223.7,79.0 226.8,79.0 230.0,79.0 233.1,79.0 236.3,79.0 236.3,105.6 233.1,105.6 230.0,105.6 226.8,105.6 223.7,105.6 220.5,105.6 217.4,105.6 214.2,105.6 211.1,105.6 207.9,105.6 204.8,105.6 201.6,105.6 198.4,105.6 195.3,105.6 192.1,105.6 189.0,105.6 185.8,105.6 182.7,105.6 179.5,105.6 176.4,105.6 173.2,105.6 170.1,105.6 166.9,105.6 163.7,105.6 160.6,105.6 157.4,105.6 154.3,105.6 151.1,105.6 148.0,105.6 144.8,105.2 141.7,104.8 138.5,104.5 135.4,104.1 132.2,103.8 129.0,103.2 125.9,101.7 122.7,100.2 119.6,98.7 116.4,97.2 113.3,95.7" fill="#2f2cff" fill-opacity="1.0"/></g></g>
<g stroke="#000" fill="none">
<line x1="48" y1="11" x2="48" y2="186.5" stroke-width="2"/>
<line x1="47" y1="185.5" x2="237.3" y2="185.5" stroke-width="2"/>
<line x1="47" y1="12.1" x2="58.3" y2="12.1" stroke-width="1.8"/>
<line x1="47" y1="55.3" x2="58.3" y2="55.3" stroke-width="1.8"/>
<line x1="47" y1="98.3" x2="58.3" y2="98.3" stroke-width="1.8"/>
<line x1="47" y1="142.0" x2="58.3" y2="142.0" stroke-width="1.8"/>
<line x1="110.77" y1="176" x2="110.77" y2="186" stroke-width="1.6"/>
<line x1="173.53" y1="176" x2="173.53" y2="186" stroke-width="1.6"/>
<line x1="236.30" y1="176" x2="236.30" y2="186" stroke-width="1.6"/>
<line x1="5.8" y1="141.6" x2="15.4" y2="141.6" stroke-width="1"/>
<line x1="6" y1="184.9" x2="15.6" y2="184.9" stroke-width="1"/>
</g>
<g font-size="18" fill="#000">
<text transform="translate(38.9,16.9) scale(0.92,1)" text-anchor="end">1.0</text>
<text transform="translate(38.9,60.0) scale(0.92,1)" text-anchor="end">0.5</text>
<text transform="translate(38.9,103.3) scale(0.92,1)" text-anchor="end">0</text>
<text transform="translate(38.9,146.9) scale(0.92,1)" text-anchor="end">0.5</text>
<text transform="translate(38.9,190.3) scale(0.92,1)" text-anchor="end">1.0</text>
<text transform="translate(48.50,208.4) scale(0.89,1)" text-anchor="middle">0</text>
<text transform="translate(109.97,208.4) scale(0.89,1)" text-anchor="middle">500</text>
<text transform="translate(172.73,208.4) scale(0.89,1)" text-anchor="middle">1000</text>
<text transform="translate(235.50,208.4) scale(0.89,1)" text-anchor="middle">1500</text>
<text x="201.8" y="216.8" font-style="italic" font-size="17">t</text>
<text x="-0.6" y="37.6" font-style="italic" font-size="17">m<tspan font-size="11.5" dx="0.8" dy="2.8">i</tspan></text>
</g>
</g>
<g fill="#000"><text x="194.8" y="35.8" font-style="italic" font-size="17">m<tspan font-size="11.5" dx="1" dy="2.8">y</tspan></text><text x="198.9" y="84.8" font-style="italic" font-size="17">m<tspan font-size="11.5" dx="1" dy="2.8">z</tspan></text><text x="195.5" y="148.1" font-style="italic" font-size="17">m<tspan font-size="11.5" dx="1" dy="2.8">x</tspan></text><text x="448.2" y="83.8" font-style="italic" font-size="17">m<tspan font-size="11.5" dx="1" dy="2.8">z</tspan></text><text x="447.5" y="147.6" font-style="italic" font-size="17">m<tspan font-size="11.5" dx="1" dy="2.8">x</tspan></text><text x="444.5" y="172.1" font-style="italic" font-size="17">m<tspan font-size="11.5" dx="1" dy="2.8">y</tspan></text><text x="193.9" y="237.8" font-style="italic" font-size="17">m<tspan font-size="11.5" dx="1" dy="2.8">y</tspan></text><text x="194.9" y="282.4" font-style="italic" font-size="17">m<tspan font-size="11.5" dx="1" dy="2.8">x</tspan></text><text x="195.7" y="348.9" font-style="italic" font-size="17">m<tspan font-size="11.5" dx="1" dy="2.8">z</tspan></text><text x="442.2" y="284.1" font-style="italic" font-size="17">m<tspan font-size="11.5" dx="1" dy="2.8">x</tspan></text><text x="450.5" y="350.1" font-style="italic" font-size="17">m<tspan font-size="11.5" dx="1" dy="2.8">z</tspan></text><text x="451.2" y="398.4" font-style="italic" font-size="17">m<tspan font-size="11.5" dx="1" dy="2.8">y</tspan></text><text x="235.1" y="10.8" font-size="19.5">a</text><text x="487.7" y="13.9" font-size="19.5">b</text><text x="236.4" y="241.5" font-size="19.5">c</text><text x="485.9" y="240.0" font-size="19.5">d</text></g></svg>
</body></html>
